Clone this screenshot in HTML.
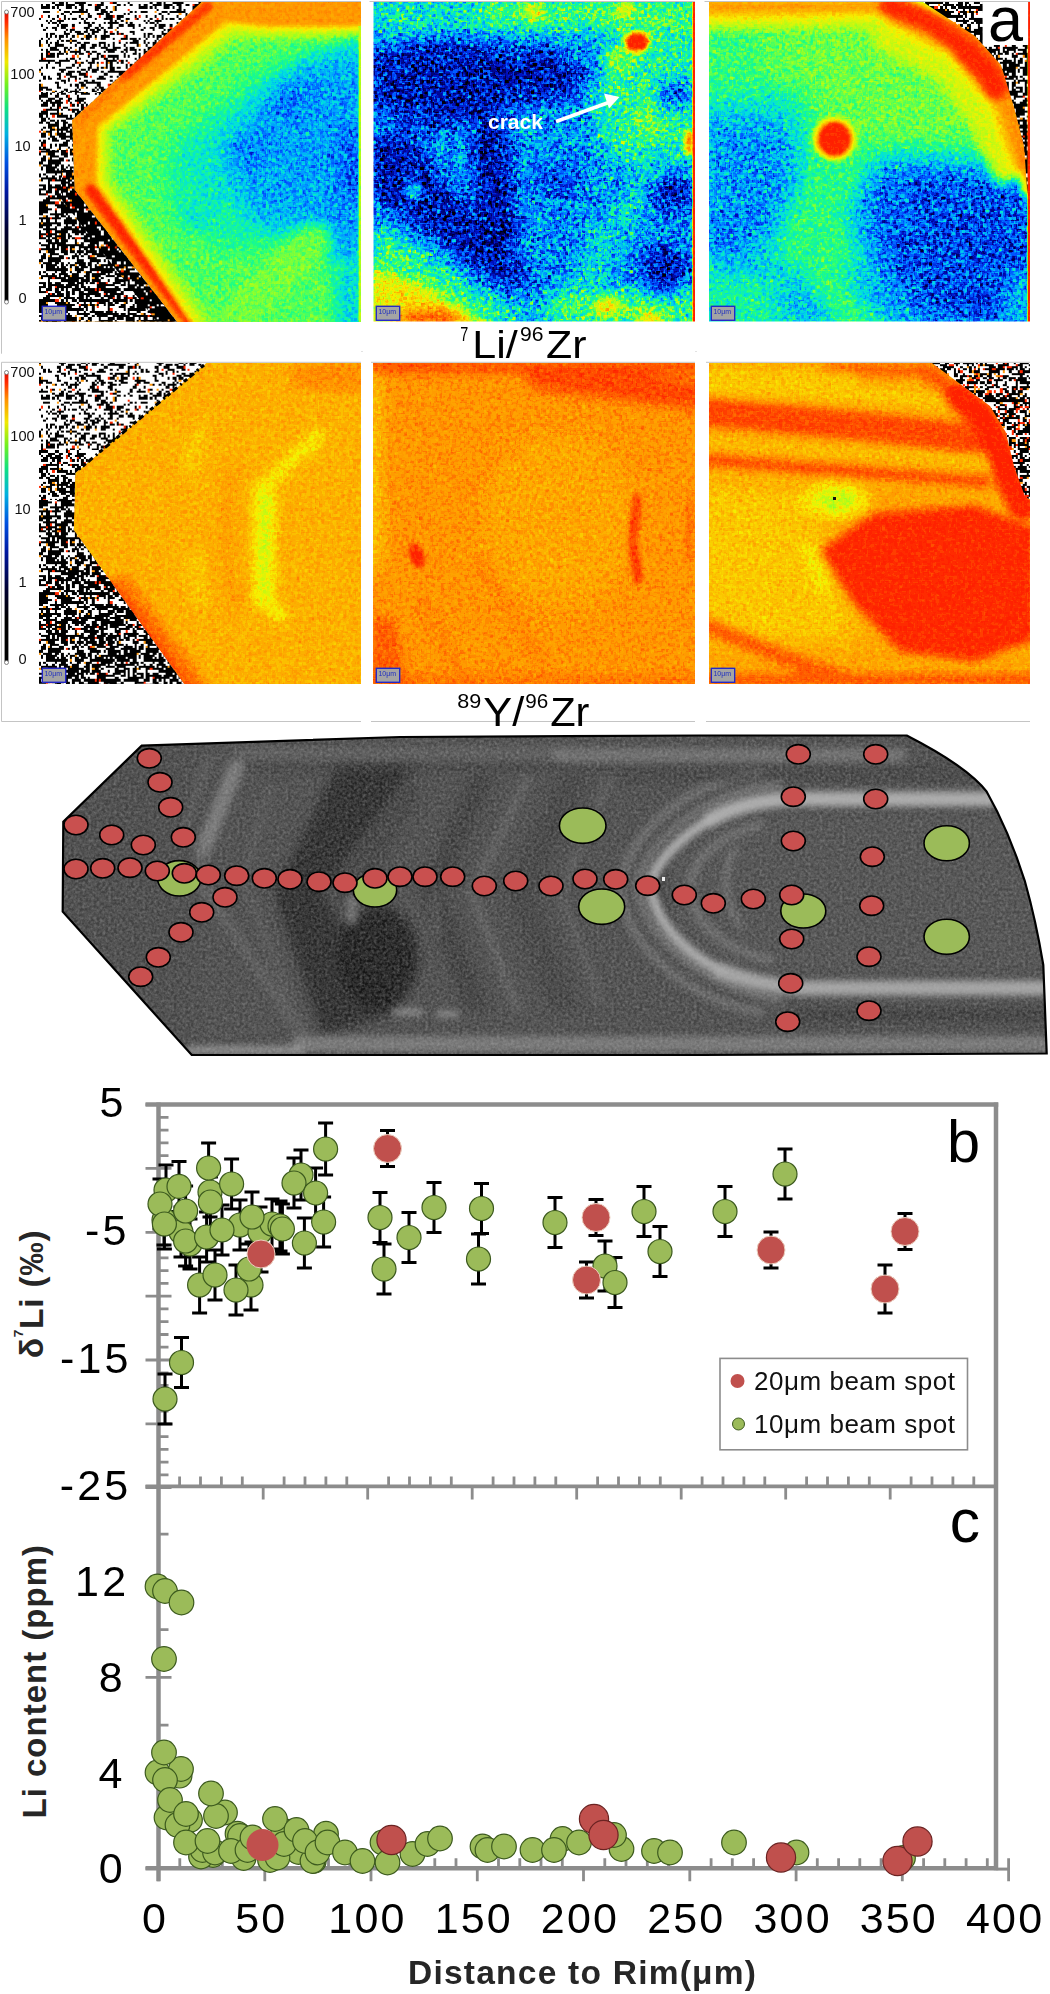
<!DOCTYPE html>
<html><head><meta charset="utf-8"><title>Li zoning figure</title>
<style>html,body{margin:0;padding:0;background:#fff}svg{display:block}</style>
</head><body>
<svg width="1050" height="1994" viewBox="0 0 1050 1994">
<rect width="1050" height="1994" fill="#fff"/>
<defs>
<pattern id="nzA" width="97.68" height="97.68" patternUnits="userSpaceOnUse" x="39" y="2"><g transform="scale(2.22)" shape-rendering="crispEdges"><rect width="44" height="44" fill="#fff"/><path d="M6 0h1v1h-1zM9 0h1v1h-1zM10 0h1v1h-1zM12 0h1v1h-1zM16 0h2v1h-2zM18 0h1v1h-1zM19 0h2v1h-2zM28 0h1v1h-1zM33 0h2v1h-2zM40 0h1v1h-1zM1 1h1v1h-1zM3 1h2v1h-2zM7 1h1v1h-1zM8 1h2v1h-2zM10 1h1v1h-1zM12 1h1v1h-1zM13 1h1v1h-1zM14 1h1v1h-1zM15 1h1v1h-1zM18 1h1v1h-1zM19 1h1v1h-1zM22 1h1v1h-1zM23 1h1v1h-1zM26 1h2v1h-2zM28 1h1v1h-1zM35 1h2v1h-2zM38 1h1v1h-1zM41 1h1v1h-1zM1 2h2v1h-2zM3 2h1v1h-1zM4 2h1v1h-1zM6 2h1v1h-1zM8 2h1v1h-1zM12 2h1v1h-1zM13 2h2v1h-2zM16 2h1v1h-1zM19 2h1v1h-1zM25 2h3v1h-3zM30 2h1v1h-1zM34 2h1v1h-1zM9 3h1v1h-1zM18 3h1v1h-1zM19 3h1v1h-1zM21 3h1v1h-1zM25 3h2v1h-2zM28 3h2v1h-2zM34 3h1v1h-1zM2 4h2v1h-2zM4 4h1v1h-1zM11 4h2v1h-2zM13 4h1v1h-1zM15 4h1v1h-1zM16 4h2v1h-2zM18 4h1v1h-1zM19 4h3v1h-3zM28 4h1v1h-1zM29 4h2v1h-2zM32 4h1v1h-1zM41 4h1v1h-1zM43 4h1v1h-1zM10 5h1v1h-1zM14 5h1v1h-1zM22 5h1v1h-1zM26 5h1v1h-1zM27 5h1v1h-1zM28 5h1v1h-1zM30 5h2v1h-2zM38 5h1v1h-1zM40 5h1v1h-1zM4 6h1v1h-1zM8 6h1v1h-1zM11 6h1v1h-1zM18 6h1v1h-1zM22 6h1v1h-1zM23 6h1v1h-1zM30 6h1v1h-1zM31 6h1v1h-1zM32 6h1v1h-1zM35 6h1v1h-1zM36 6h1v1h-1zM37 6h1v1h-1zM43 6h1v1h-1zM0 7h1v1h-1zM6 7h1v1h-1zM11 7h1v1h-1zM13 7h1v1h-1zM15 7h2v1h-2zM19 7h1v1h-1zM21 7h1v1h-1zM25 7h1v1h-1zM29 7h4v1h-4zM35 7h1v1h-1zM36 7h1v1h-1zM39 7h2v1h-2zM3 8h1v1h-1zM5 8h1v1h-1zM8 8h2v1h-2zM10 8h1v1h-1zM20 8h1v1h-1zM32 8h1v1h-1zM34 8h1v1h-1zM37 8h1v1h-1zM4 9h1v1h-1zM6 9h1v1h-1zM7 9h1v1h-1zM9 9h1v1h-1zM18 9h1v1h-1zM20 9h1v1h-1zM21 9h1v1h-1zM22 9h1v1h-1zM24 9h1v1h-1zM29 9h1v1h-1zM31 9h1v1h-1zM32 9h2v1h-2zM34 9h2v1h-2zM39 9h1v1h-1zM41 9h1v1h-1zM1 10h1v1h-1zM8 10h1v1h-1zM10 10h2v1h-2zM12 10h1v1h-1zM15 10h1v1h-1zM22 10h2v1h-2zM27 10h1v1h-1zM32 10h1v1h-1zM36 10h2v1h-2zM40 10h1v1h-1zM41 10h2v1h-2zM3 11h1v1h-1zM6 11h2v1h-2zM10 11h1v1h-1zM11 11h1v1h-1zM20 11h1v1h-1zM21 11h2v1h-2zM25 11h1v1h-1zM26 11h1v1h-1zM28 11h1v1h-1zM31 11h2v1h-2zM35 11h1v1h-1zM42 11h1v1h-1zM2 12h1v1h-1zM7 12h1v1h-1zM12 12h1v1h-1zM14 12h2v1h-2zM21 12h1v1h-1zM23 12h2v1h-2zM26 12h1v1h-1zM27 12h1v1h-1zM29 12h1v1h-1zM11 13h1v1h-1zM14 13h1v1h-1zM16 13h1v1h-1zM17 13h1v1h-1zM18 13h1v1h-1zM20 13h2v1h-2zM24 13h2v1h-2zM26 13h1v1h-1zM29 13h1v1h-1zM30 13h1v1h-1zM35 13h1v1h-1zM41 13h2v1h-2zM3 14h1v1h-1zM5 14h2v1h-2zM11 14h2v1h-2zM13 14h1v1h-1zM17 14h1v1h-1zM18 14h1v1h-1zM19 14h1v1h-1zM22 14h1v1h-1zM24 14h1v1h-1zM29 14h1v1h-1zM32 14h1v1h-1zM33 14h1v1h-1zM35 14h1v1h-1zM37 14h1v1h-1zM42 14h1v1h-1zM3 15h1v1h-1zM5 15h1v1h-1zM7 15h1v1h-1zM9 15h1v1h-1zM10 15h1v1h-1zM12 15h1v1h-1zM15 15h1v1h-1zM21 15h3v1h-3zM25 15h1v1h-1zM28 15h1v1h-1zM29 15h2v1h-2zM31 15h1v1h-1zM39 15h1v1h-1zM1 16h1v1h-1zM4 16h1v1h-1zM9 16h1v1h-1zM14 16h1v1h-1zM19 16h1v1h-1zM21 16h2v1h-2zM28 16h1v1h-1zM29 16h1v1h-1zM33 16h1v1h-1zM37 16h1v1h-1zM38 16h1v1h-1zM39 16h1v1h-1zM41 16h1v1h-1zM42 16h2v1h-2zM0 17h1v1h-1zM3 17h1v1h-1zM8 17h1v1h-1zM10 17h1v1h-1zM12 17h1v1h-1zM13 17h1v1h-1zM15 17h1v1h-1zM16 17h1v1h-1zM42 17h1v1h-1zM43 17h1v1h-1zM0 18h1v1h-1zM3 18h1v1h-1zM5 18h1v1h-1zM7 18h2v1h-2zM14 18h1v1h-1zM17 18h1v1h-1zM18 18h1v1h-1zM20 18h1v1h-1zM21 18h1v1h-1zM22 18h1v1h-1zM27 18h2v1h-2zM29 18h1v1h-1zM33 18h1v1h-1zM36 18h1v1h-1zM39 18h1v1h-1zM41 18h1v1h-1zM42 18h1v1h-1zM43 18h1v1h-1zM0 19h1v1h-1zM4 19h1v1h-1zM7 19h1v1h-1zM8 19h1v1h-1zM9 19h1v1h-1zM10 19h1v1h-1zM16 19h1v1h-1zM19 19h1v1h-1zM20 19h1v1h-1zM24 19h1v1h-1zM25 19h1v1h-1zM27 19h1v1h-1zM29 19h1v1h-1zM31 19h1v1h-1zM33 19h1v1h-1zM38 19h1v1h-1zM5 20h1v1h-1zM6 20h1v1h-1zM7 20h1v1h-1zM11 20h1v1h-1zM12 20h1v1h-1zM14 20h1v1h-1zM18 20h3v1h-3zM23 20h1v1h-1zM24 20h1v1h-1zM28 20h2v1h-2zM30 20h1v1h-1zM33 20h1v1h-1zM34 20h1v1h-1zM35 20h1v1h-1zM36 20h1v1h-1zM39 20h1v1h-1zM41 20h1v1h-1zM42 20h1v1h-1zM1 21h1v1h-1zM3 21h1v1h-1zM5 21h1v1h-1zM6 21h1v1h-1zM7 21h2v1h-2zM11 21h1v1h-1zM13 21h1v1h-1zM18 21h1v1h-1zM20 21h1v1h-1zM30 21h1v1h-1zM31 21h1v1h-1zM32 21h1v1h-1zM33 21h1v1h-1zM34 21h1v1h-1zM38 21h1v1h-1zM39 21h1v1h-1zM41 21h2v1h-2zM43 21h1v1h-1zM3 22h1v1h-1zM4 22h1v1h-1zM9 22h1v1h-1zM11 22h1v1h-1zM14 22h1v1h-1zM15 22h3v1h-3zM18 22h1v1h-1zM21 22h1v1h-1zM22 22h1v1h-1zM24 22h1v1h-1zM25 22h1v1h-1zM29 22h1v1h-1zM31 22h3v1h-3zM37 22h1v1h-1zM39 22h1v1h-1zM43 22h1v1h-1zM1 23h1v1h-1zM3 23h1v1h-1zM5 23h2v1h-2zM8 23h1v1h-1zM9 23h2v1h-2zM12 23h1v1h-1zM16 23h1v1h-1zM18 23h1v1h-1zM19 23h1v1h-1zM23 23h1v1h-1zM26 23h1v1h-1zM27 23h1v1h-1zM38 23h1v1h-1zM42 23h2v1h-2zM1 24h1v1h-1zM3 24h1v1h-1zM4 24h1v1h-1zM5 24h2v1h-2zM8 24h1v1h-1zM22 24h1v1h-1zM26 24h1v1h-1zM28 24h1v1h-1zM31 24h4v1h-4zM35 24h1v1h-1zM38 24h1v1h-1zM40 24h1v1h-1zM1 25h1v1h-1zM12 25h1v1h-1zM14 25h1v1h-1zM15 25h1v1h-1zM18 25h1v1h-1zM24 25h1v1h-1zM25 25h2v1h-2zM29 25h1v1h-1zM30 25h1v1h-1zM33 25h1v1h-1zM35 25h1v1h-1zM43 25h1v1h-1zM0 26h2v1h-2zM2 26h1v1h-1zM3 26h1v1h-1zM4 26h1v1h-1zM5 26h1v1h-1zM6 26h1v1h-1zM9 26h3v1h-3zM12 26h2v1h-2zM16 26h1v1h-1zM21 26h1v1h-1zM24 26h1v1h-1zM30 26h5v1h-5zM37 26h1v1h-1zM39 26h1v1h-1zM4 27h1v1h-1zM7 27h1v1h-1zM8 27h1v1h-1zM9 27h1v1h-1zM16 27h1v1h-1zM19 27h1v1h-1zM22 27h3v1h-3zM26 27h1v1h-1zM30 27h1v1h-1zM32 27h1v1h-1zM35 27h1v1h-1zM37 27h1v1h-1zM43 27h1v1h-1zM3 28h1v1h-1zM9 28h1v1h-1zM15 28h1v1h-1zM18 28h1v1h-1zM23 28h1v1h-1zM30 28h1v1h-1zM32 28h1v1h-1zM39 28h1v1h-1zM41 28h1v1h-1zM1 29h1v1h-1zM3 29h1v1h-1zM6 29h1v1h-1zM12 29h1v1h-1zM13 29h2v1h-2zM17 29h1v1h-1zM22 29h1v1h-1zM23 29h1v1h-1zM26 29h1v1h-1zM28 29h1v1h-1zM30 29h1v1h-1zM32 29h2v1h-2zM35 29h2v1h-2zM39 29h1v1h-1zM0 30h1v1h-1zM9 30h1v1h-1zM10 30h1v1h-1zM11 30h1v1h-1zM19 30h1v1h-1zM20 30h1v1h-1zM22 30h1v1h-1zM24 30h1v1h-1zM25 30h1v1h-1zM26 30h1v1h-1zM32 30h1v1h-1zM33 30h1v1h-1zM40 30h1v1h-1zM10 31h1v1h-1zM13 31h1v1h-1zM14 31h1v1h-1zM15 31h1v1h-1zM17 31h2v1h-2zM21 31h1v1h-1zM24 31h1v1h-1zM25 31h1v1h-1zM28 31h1v1h-1zM31 31h1v1h-1zM32 31h1v1h-1zM33 31h1v1h-1zM34 31h2v1h-2zM36 31h1v1h-1zM37 31h1v1h-1zM38 31h1v1h-1zM43 31h1v1h-1zM1 32h1v1h-1zM8 32h2v1h-2zM12 32h1v1h-1zM13 32h2v1h-2zM18 32h1v1h-1zM19 32h1v1h-1zM20 32h1v1h-1zM29 32h1v1h-1zM30 32h1v1h-1zM36 32h1v1h-1zM37 32h1v1h-1zM40 32h2v1h-2zM43 32h1v1h-1zM2 33h1v1h-1zM4 33h1v1h-1zM9 33h1v1h-1zM14 33h2v1h-2zM16 33h1v1h-1zM20 33h1v1h-1zM21 33h1v1h-1zM27 33h1v1h-1zM28 33h1v1h-1zM32 33h1v1h-1zM35 33h1v1h-1zM40 33h1v1h-1zM2 34h1v1h-1zM4 34h2v1h-2zM8 34h2v1h-2zM13 34h1v1h-1zM16 34h1v1h-1zM18 34h1v1h-1zM26 34h1v1h-1zM27 34h1v1h-1zM28 34h1v1h-1zM29 34h1v1h-1zM40 34h1v1h-1zM43 34h1v1h-1zM0 35h1v1h-1zM10 35h1v1h-1zM11 35h1v1h-1zM13 35h1v1h-1zM20 35h1v1h-1zM21 35h1v1h-1zM24 35h1v1h-1zM32 35h1v1h-1zM34 35h1v1h-1zM35 35h1v1h-1zM36 35h1v1h-1zM37 35h2v1h-2zM39 35h1v1h-1zM40 35h1v1h-1zM42 35h1v1h-1zM7 36h2v1h-2zM11 36h1v1h-1zM18 36h1v1h-1zM19 36h1v1h-1zM21 36h1v1h-1zM22 36h1v1h-1zM23 36h1v1h-1zM24 36h1v1h-1zM25 36h1v1h-1zM26 36h2v1h-2zM33 36h1v1h-1zM34 36h1v1h-1zM37 36h1v1h-1zM40 36h1v1h-1zM0 37h1v1h-1zM8 37h1v1h-1zM14 37h1v1h-1zM16 37h2v1h-2zM19 37h2v1h-2zM26 37h2v1h-2zM32 37h1v1h-1zM33 37h1v1h-1zM37 37h1v1h-1zM38 37h2v1h-2zM0 38h1v1h-1zM1 38h1v1h-1zM2 38h1v1h-1zM3 38h1v1h-1zM8 38h1v1h-1zM9 38h1v1h-1zM17 38h1v1h-1zM21 38h1v1h-1zM25 38h1v1h-1zM27 38h1v1h-1zM28 38h1v1h-1zM34 38h1v1h-1zM36 38h2v1h-2zM43 38h1v1h-1zM0 39h1v1h-1zM1 39h1v1h-1zM3 39h1v1h-1zM4 39h2v1h-2zM11 39h1v1h-1zM12 39h1v1h-1zM16 39h1v1h-1zM18 39h1v1h-1zM24 39h1v1h-1zM26 39h1v1h-1zM28 39h2v1h-2zM31 39h2v1h-2zM37 39h2v1h-2zM39 39h1v1h-1zM7 40h1v1h-1zM10 40h1v1h-1zM12 40h1v1h-1zM14 40h1v1h-1zM15 40h1v1h-1zM16 40h2v1h-2zM24 40h1v1h-1zM25 40h1v1h-1zM28 40h1v1h-1zM32 40h1v1h-1zM33 40h1v1h-1zM34 40h1v1h-1zM36 40h1v1h-1zM43 40h1v1h-1zM3 41h1v1h-1zM13 41h1v1h-1zM14 41h1v1h-1zM16 41h1v1h-1zM23 41h1v1h-1zM24 41h1v1h-1zM31 41h1v1h-1zM32 41h1v1h-1zM42 41h2v1h-2zM1 42h1v1h-1zM6 42h1v1h-1zM11 42h1v1h-1zM18 42h1v1h-1zM22 42h1v1h-1zM24 42h1v1h-1zM25 42h2v1h-2zM32 42h1v1h-1zM34 42h1v1h-1zM41 42h1v1h-1zM0 43h1v1h-1zM1 43h2v1h-2zM3 43h1v1h-1zM10 43h1v1h-1zM13 43h2v1h-2zM17 43h1v1h-1zM24 43h1v1h-1zM25 43h2v1h-2zM27 43h2v1h-2zM30 43h1v1h-1zM35 43h1v1h-1zM36 43h1v1h-1zM41 43h1v1h-1z" fill="#000"/><path d="M32 0h1v1h-1zM25 1h1v1h-1zM40 3h1v1h-1zM1 6h1v1h-1zM27 6h1v1h-1zM33 6h1v1h-1zM9 7h1v1h-1zM43 7h1v1h-1zM15 11h1v1h-1zM32 13h1v1h-1zM36 14h1v1h-1zM38 15h1v1h-1zM36 17h1v1h-1zM4 23h1v1h-1zM22 23h1v1h-1zM15 24h1v1h-1zM29 24h1v1h-1zM2 25h1v1h-1zM36 26h1v1h-1zM17 27h1v1h-1zM28 27h1v1h-1zM40 27h1v1h-1zM43 29h1v1h-1zM21 32h1v1h-1zM42 32h1v1h-1zM11 33h1v1h-1zM23 33h1v1h-1zM16 35h1v1h-1zM31 37h1v1h-1zM42 37h1v1h-1zM0 40h1v1h-1zM26 41h1v1h-1zM5 42h1v1h-1zM15 42h1v1h-1z" fill="#ff2800"/><path d="M33 2h1v1h-1zM33 3h1v1h-1zM8 4h1v1h-1zM19 5h1v1h-1zM39 8h1v1h-1zM34 12h1v1h-1zM17 15h1v1h-1zM20 15h1v1h-1zM25 16h1v1h-1zM14 17h1v1h-1zM1 19h1v1h-1zM16 21h1v1h-1zM12 22h1v1h-1zM17 24h1v1h-1zM18 27h1v1h-1zM31 27h1v1h-1zM26 28h1v1h-1zM29 29h1v1h-1zM0 31h1v1h-1zM39 34h1v1h-1zM1 37h1v1h-1zM35 37h1v1h-1zM19 38h1v1h-1zM6 40h1v1h-1zM9 42h1v1h-1zM5 43h1v1h-1zM34 43h1v1h-1z" fill="#ff9a10"/></g></pattern>
<pattern id="nzE" width="88.80" height="88.80" patternUnits="userSpaceOnUse" x="39" y="2"><g transform="scale(2.22)" shape-rendering="crispEdges"><rect width="40" height="40" fill="#fff"/><path d="M1 0h1v1h-1zM3 0h1v1h-1zM6 0h1v1h-1zM9 0h1v1h-1zM10 0h1v1h-1zM13 0h1v1h-1zM14 0h1v1h-1zM16 0h4v1h-4zM21 0h1v1h-1zM26 0h1v1h-1zM27 0h1v1h-1zM29 0h1v1h-1zM32 0h1v1h-1zM33 0h1v1h-1zM38 0h1v1h-1zM1 1h1v1h-1zM2 1h1v1h-1zM3 1h1v1h-1zM5 1h1v1h-1zM8 1h1v1h-1zM10 1h1v1h-1zM11 1h1v1h-1zM16 1h1v1h-1zM19 1h3v1h-3zM22 1h1v1h-1zM25 1h1v1h-1zM27 1h3v1h-3zM30 1h1v1h-1zM31 1h1v1h-1zM35 1h1v1h-1zM36 1h1v1h-1zM37 1h1v1h-1zM0 2h4v1h-4zM7 2h1v1h-1zM8 2h1v1h-1zM12 2h1v1h-1zM17 2h1v1h-1zM27 2h1v1h-1zM28 2h1v1h-1zM31 2h2v1h-2zM33 2h1v1h-1zM35 2h1v1h-1zM39 2h1v1h-1zM0 3h1v1h-1zM4 3h2v1h-2zM6 3h1v1h-1zM9 3h1v1h-1zM10 3h1v1h-1zM13 3h1v1h-1zM14 3h1v1h-1zM17 3h3v1h-3zM20 3h1v1h-1zM28 3h1v1h-1zM30 3h1v1h-1zM31 3h1v1h-1zM34 3h1v1h-1zM35 3h1v1h-1zM37 3h1v1h-1zM39 3h1v1h-1zM1 4h1v1h-1zM3 4h1v1h-1zM4 4h1v1h-1zM5 4h1v1h-1zM7 4h1v1h-1zM8 4h2v1h-2zM13 4h1v1h-1zM16 4h3v1h-3zM19 4h1v1h-1zM30 4h1v1h-1zM32 4h1v1h-1zM36 4h2v1h-2zM2 5h2v1h-2zM5 5h1v1h-1zM6 5h1v1h-1zM7 5h1v1h-1zM8 5h1v1h-1zM9 5h1v1h-1zM10 5h1v1h-1zM14 5h1v1h-1zM18 5h1v1h-1zM20 5h1v1h-1zM26 5h1v1h-1zM29 5h1v1h-1zM31 5h1v1h-1zM32 5h1v1h-1zM33 5h2v1h-2zM37 5h1v1h-1zM39 5h1v1h-1zM1 6h2v1h-2zM3 6h1v1h-1zM6 6h1v1h-1zM8 6h1v1h-1zM9 6h1v1h-1zM15 6h1v1h-1zM17 6h1v1h-1zM19 6h1v1h-1zM21 6h1v1h-1zM26 6h2v1h-2zM28 6h2v1h-2zM31 6h1v1h-1zM32 6h1v1h-1zM35 6h1v1h-1zM37 6h1v1h-1zM39 6h1v1h-1zM5 7h1v1h-1zM8 7h1v1h-1zM11 7h2v1h-2zM19 7h1v1h-1zM22 7h1v1h-1zM26 7h1v1h-1zM30 7h1v1h-1zM31 7h1v1h-1zM32 7h1v1h-1zM33 7h1v1h-1zM34 7h1v1h-1zM3 8h3v1h-3zM6 8h1v1h-1zM7 8h2v1h-2zM10 8h1v1h-1zM13 8h1v1h-1zM15 8h3v1h-3zM19 8h1v1h-1zM21 8h1v1h-1zM23 8h1v1h-1zM24 8h1v1h-1zM28 8h1v1h-1zM33 8h1v1h-1zM34 8h1v1h-1zM35 8h2v1h-2zM38 8h2v1h-2zM1 9h3v1h-3zM8 9h1v1h-1zM15 9h1v1h-1zM17 9h2v1h-2zM20 9h1v1h-1zM22 9h1v1h-1zM23 9h3v1h-3zM26 9h1v1h-1zM27 9h2v1h-2zM33 9h1v1h-1zM35 9h1v1h-1zM0 10h2v1h-2zM2 10h1v1h-1zM3 10h1v1h-1zM5 10h2v1h-2zM7 10h1v1h-1zM8 10h1v1h-1zM10 10h1v1h-1zM16 10h1v1h-1zM17 10h1v1h-1zM18 10h1v1h-1zM19 10h1v1h-1zM22 10h1v1h-1zM23 10h1v1h-1zM31 10h1v1h-1zM33 10h2v1h-2zM35 10h1v1h-1zM36 10h1v1h-1zM37 10h1v1h-1zM38 10h1v1h-1zM39 10h1v1h-1zM0 11h1v1h-1zM1 11h1v1h-1zM3 11h1v1h-1zM8 11h4v1h-4zM12 11h1v1h-1zM14 11h1v1h-1zM16 11h1v1h-1zM17 11h1v1h-1zM18 11h1v1h-1zM21 11h3v1h-3zM24 11h1v1h-1zM25 11h1v1h-1zM26 11h1v1h-1zM27 11h1v1h-1zM30 11h1v1h-1zM31 11h1v1h-1zM34 11h1v1h-1zM36 11h1v1h-1zM37 11h2v1h-2zM39 11h1v1h-1zM1 12h1v1h-1zM2 12h1v1h-1zM4 12h1v1h-1zM12 12h1v1h-1zM13 12h3v1h-3zM16 12h1v1h-1zM17 12h1v1h-1zM18 12h1v1h-1zM25 12h1v1h-1zM26 12h1v1h-1zM27 12h1v1h-1zM28 12h1v1h-1zM29 12h1v1h-1zM30 12h1v1h-1zM31 12h1v1h-1zM32 12h1v1h-1zM37 12h3v1h-3zM1 13h1v1h-1zM2 13h1v1h-1zM5 13h2v1h-2zM8 13h1v1h-1zM10 13h1v1h-1zM11 13h1v1h-1zM19 13h1v1h-1zM21 13h1v1h-1zM22 13h3v1h-3zM26 13h2v1h-2zM28 13h1v1h-1zM29 13h2v1h-2zM33 13h1v1h-1zM36 13h1v1h-1zM0 14h2v1h-2zM3 14h1v1h-1zM4 14h1v1h-1zM7 14h1v1h-1zM8 14h1v1h-1zM11 14h2v1h-2zM19 14h1v1h-1zM21 14h5v1h-5zM27 14h1v1h-1zM31 14h1v1h-1zM32 14h1v1h-1zM35 14h1v1h-1zM37 14h1v1h-1zM38 14h2v1h-2zM4 15h1v1h-1zM5 15h2v1h-2zM7 15h1v1h-1zM8 15h1v1h-1zM11 15h1v1h-1zM13 15h1v1h-1zM14 15h1v1h-1zM18 15h1v1h-1zM21 15h1v1h-1zM22 15h1v1h-1zM23 15h1v1h-1zM24 15h1v1h-1zM26 15h1v1h-1zM27 15h1v1h-1zM30 15h1v1h-1zM38 15h1v1h-1zM2 16h1v1h-1zM4 16h1v1h-1zM5 16h1v1h-1zM8 16h1v1h-1zM10 16h1v1h-1zM11 16h1v1h-1zM12 16h1v1h-1zM13 16h1v1h-1zM15 16h1v1h-1zM16 16h1v1h-1zM22 16h1v1h-1zM23 16h1v1h-1zM26 16h1v1h-1zM28 16h1v1h-1zM33 16h1v1h-1zM38 16h1v1h-1zM39 16h1v1h-1zM1 17h1v1h-1zM5 17h2v1h-2zM8 17h1v1h-1zM9 17h1v1h-1zM10 17h1v1h-1zM11 17h1v1h-1zM12 17h1v1h-1zM14 17h1v1h-1zM15 17h1v1h-1zM16 17h1v1h-1zM17 17h1v1h-1zM18 17h1v1h-1zM20 17h1v1h-1zM21 17h1v1h-1zM23 17h1v1h-1zM29 17h3v1h-3zM34 17h1v1h-1zM36 17h1v1h-1zM38 17h1v1h-1zM3 18h1v1h-1zM4 18h2v1h-2zM8 18h1v1h-1zM10 18h1v1h-1zM12 18h1v1h-1zM13 18h1v1h-1zM14 18h1v1h-1zM15 18h1v1h-1zM16 18h2v1h-2zM18 18h2v1h-2zM25 18h1v1h-1zM26 18h1v1h-1zM30 18h1v1h-1zM31 18h1v1h-1zM32 18h1v1h-1zM33 18h2v1h-2zM35 18h1v1h-1zM37 18h3v1h-3zM1 19h2v1h-2zM5 19h1v1h-1zM8 19h2v1h-2zM10 19h1v1h-1zM11 19h1v1h-1zM14 19h1v1h-1zM15 19h1v1h-1zM20 19h2v1h-2zM22 19h3v1h-3zM27 19h1v1h-1zM29 19h2v1h-2zM33 19h1v1h-1zM34 19h1v1h-1zM38 19h1v1h-1zM1 20h2v1h-2zM5 20h1v1h-1zM6 20h1v1h-1zM9 20h1v1h-1zM10 20h2v1h-2zM12 20h1v1h-1zM13 20h1v1h-1zM14 20h2v1h-2zM19 20h1v1h-1zM25 20h1v1h-1zM26 20h2v1h-2zM31 20h1v1h-1zM33 20h2v1h-2zM35 20h1v1h-1zM36 20h1v1h-1zM37 20h1v1h-1zM38 20h1v1h-1zM4 21h1v1h-1zM6 21h1v1h-1zM7 21h1v1h-1zM10 21h1v1h-1zM11 21h1v1h-1zM14 21h3v1h-3zM17 21h2v1h-2zM19 21h1v1h-1zM22 21h2v1h-2zM31 21h1v1h-1zM34 21h1v1h-1zM39 21h1v1h-1zM0 22h1v1h-1zM2 22h1v1h-1zM6 22h1v1h-1zM7 22h1v1h-1zM8 22h1v1h-1zM12 22h2v1h-2zM15 22h1v1h-1zM16 22h1v1h-1zM18 22h3v1h-3zM21 22h1v1h-1zM22 22h1v1h-1zM26 22h1v1h-1zM33 22h1v1h-1zM35 22h1v1h-1zM38 22h2v1h-2zM1 23h2v1h-2zM11 23h2v1h-2zM16 23h1v1h-1zM17 23h1v1h-1zM19 23h1v1h-1zM20 23h2v1h-2zM24 23h1v1h-1zM25 23h1v1h-1zM26 23h1v1h-1zM30 23h1v1h-1zM32 23h1v1h-1zM36 23h4v1h-4zM1 24h1v1h-1zM5 24h1v1h-1zM7 24h1v1h-1zM9 24h3v1h-3zM12 24h1v1h-1zM15 24h1v1h-1zM19 24h1v1h-1zM23 24h1v1h-1zM26 24h2v1h-2zM28 24h1v1h-1zM30 24h1v1h-1zM31 24h1v1h-1zM34 24h2v1h-2zM36 24h1v1h-1zM37 24h1v1h-1zM38 24h1v1h-1zM39 24h1v1h-1zM0 25h1v1h-1zM2 25h1v1h-1zM5 25h1v1h-1zM9 25h1v1h-1zM13 25h1v1h-1zM17 25h1v1h-1zM19 25h1v1h-1zM24 25h1v1h-1zM25 25h1v1h-1zM29 25h1v1h-1zM31 25h1v1h-1zM34 25h1v1h-1zM35 25h1v1h-1zM37 25h1v1h-1zM0 26h1v1h-1zM1 26h3v1h-3zM4 26h1v1h-1zM9 26h1v1h-1zM14 26h1v1h-1zM15 26h1v1h-1zM18 26h1v1h-1zM19 26h1v1h-1zM21 26h1v1h-1zM24 26h1v1h-1zM26 26h1v1h-1zM29 26h1v1h-1zM30 26h1v1h-1zM31 26h2v1h-2zM34 26h1v1h-1zM35 26h1v1h-1zM36 26h1v1h-1zM37 26h1v1h-1zM39 26h1v1h-1zM2 27h1v1h-1zM3 27h1v1h-1zM8 27h1v1h-1zM9 27h1v1h-1zM10 27h1v1h-1zM16 27h1v1h-1zM19 27h3v1h-3zM24 27h1v1h-1zM29 27h1v1h-1zM30 27h4v1h-4zM35 27h1v1h-1zM36 27h1v1h-1zM37 27h1v1h-1zM38 27h1v1h-1zM1 28h1v1h-1zM7 28h1v1h-1zM9 28h1v1h-1zM10 28h1v1h-1zM11 28h1v1h-1zM15 28h1v1h-1zM16 28h2v1h-2zM18 28h1v1h-1zM20 28h1v1h-1zM24 28h1v1h-1zM27 28h1v1h-1zM31 28h1v1h-1zM34 28h2v1h-2zM37 28h1v1h-1zM38 28h1v1h-1zM39 28h1v1h-1zM2 29h1v1h-1zM6 29h1v1h-1zM7 29h1v1h-1zM8 29h2v1h-2zM10 29h1v1h-1zM12 29h1v1h-1zM14 29h4v1h-4zM20 29h2v1h-2zM22 29h3v1h-3zM25 29h3v1h-3zM29 29h1v1h-1zM31 29h2v1h-2zM34 29h1v1h-1zM2 30h2v1h-2zM6 30h1v1h-1zM9 30h1v1h-1zM10 30h1v1h-1zM12 30h1v1h-1zM14 30h1v1h-1zM16 30h1v1h-1zM19 30h1v1h-1zM20 30h1v1h-1zM23 30h1v1h-1zM24 30h1v1h-1zM27 30h2v1h-2zM32 30h1v1h-1zM33 30h1v1h-1zM35 30h1v1h-1zM0 31h1v1h-1zM2 31h1v1h-1zM4 31h1v1h-1zM8 31h1v1h-1zM9 31h1v1h-1zM10 31h1v1h-1zM11 31h1v1h-1zM18 31h1v1h-1zM20 31h2v1h-2zM22 31h1v1h-1zM23 31h2v1h-2zM27 31h1v1h-1zM28 31h1v1h-1zM30 31h1v1h-1zM33 31h1v1h-1zM35 31h1v1h-1zM36 31h1v1h-1zM37 31h1v1h-1zM2 32h2v1h-2zM4 32h1v1h-1zM5 32h1v1h-1zM8 32h2v1h-2zM11 32h2v1h-2zM13 32h1v1h-1zM19 32h2v1h-2zM24 32h1v1h-1zM27 32h1v1h-1zM28 32h1v1h-1zM30 32h3v1h-3zM33 32h1v1h-1zM37 32h3v1h-3zM1 33h2v1h-2zM4 33h1v1h-1zM7 33h1v1h-1zM8 33h1v1h-1zM11 33h1v1h-1zM17 33h1v1h-1zM19 33h1v1h-1zM20 33h1v1h-1zM21 33h2v1h-2zM24 33h1v1h-1zM25 33h1v1h-1zM26 33h2v1h-2zM28 33h1v1h-1zM30 33h1v1h-1zM32 33h1v1h-1zM38 33h2v1h-2zM1 34h1v1h-1zM4 34h1v1h-1zM8 34h4v1h-4zM14 34h2v1h-2zM22 34h4v1h-4zM30 34h1v1h-1zM33 34h2v1h-2zM37 34h1v1h-1zM38 34h1v1h-1zM2 35h2v1h-2zM6 35h1v1h-1zM9 35h1v1h-1zM11 35h1v1h-1zM19 35h1v1h-1zM20 35h1v1h-1zM26 35h1v1h-1zM27 35h1v1h-1zM31 35h1v1h-1zM32 35h1v1h-1zM34 35h1v1h-1zM35 35h1v1h-1zM36 35h1v1h-1zM37 35h1v1h-1zM39 35h1v1h-1zM0 36h2v1h-2zM2 36h2v1h-2zM5 36h1v1h-1zM6 36h2v1h-2zM10 36h1v1h-1zM12 36h1v1h-1zM13 36h1v1h-1zM14 36h1v1h-1zM15 36h1v1h-1zM17 36h1v1h-1zM20 36h2v1h-2zM22 36h1v1h-1zM24 36h1v1h-1zM27 36h1v1h-1zM31 36h1v1h-1zM36 36h1v1h-1zM1 37h3v1h-3zM4 37h1v1h-1zM6 37h1v1h-1zM7 37h1v1h-1zM9 37h1v1h-1zM12 37h1v1h-1zM14 37h1v1h-1zM15 37h1v1h-1zM16 37h3v1h-3zM23 37h1v1h-1zM26 37h1v1h-1zM29 37h1v1h-1zM30 37h1v1h-1zM34 37h1v1h-1zM35 37h1v1h-1zM0 38h1v1h-1zM1 38h1v1h-1zM5 38h1v1h-1zM10 38h1v1h-1zM13 38h1v1h-1zM18 38h1v1h-1zM20 38h1v1h-1zM21 38h1v1h-1zM22 38h3v1h-3zM25 38h1v1h-1zM26 38h1v1h-1zM27 38h1v1h-1zM28 38h1v1h-1zM30 38h2v1h-2zM32 38h1v1h-1zM33 38h1v1h-1zM36 38h1v1h-1zM37 38h1v1h-1zM38 38h1v1h-1zM39 38h1v1h-1zM1 39h1v1h-1zM2 39h1v1h-1zM5 39h1v1h-1zM7 39h2v1h-2zM10 39h1v1h-1zM11 39h1v1h-1zM15 39h1v1h-1zM19 39h1v1h-1zM21 39h1v1h-1zM23 39h1v1h-1zM25 39h1v1h-1zM29 39h1v1h-1zM30 39h1v1h-1zM33 39h2v1h-2zM35 39h1v1h-1zM36 39h1v1h-1zM37 39h1v1h-1zM38 39h1v1h-1z" fill="#000"/><path d="M38 1h1v1h-1zM13 2h1v1h-1zM12 4h1v1h-1zM12 5h1v1h-1zM17 5h1v1h-1zM38 5h1v1h-1zM14 6h1v1h-1zM9 7h1v1h-1zM20 7h1v1h-1zM2 8h1v1h-1zM14 8h1v1h-1zM38 9h1v1h-1zM6 11h1v1h-1zM32 11h1v1h-1zM25 13h1v1h-1zM18 14h1v1h-1zM30 16h1v1h-1zM34 16h1v1h-1zM36 16h1v1h-1zM0 18h1v1h-1zM26 19h1v1h-1zM38 21h1v1h-1zM2 24h1v1h-1zM15 27h1v1h-1zM5 28h1v1h-1zM36 29h1v1h-1zM1 30h1v1h-1zM13 30h1v1h-1zM17 31h1v1h-1zM27 34h1v1h-1zM10 35h1v1h-1zM23 35h1v1h-1zM6 38h1v1h-1z" fill="#ff2800"/><path d="M20 0h1v1h-1zM31 4h1v1h-1zM34 4h1v1h-1zM9 10h1v1h-1zM16 14h1v1h-1zM28 15h1v1h-1zM6 16h1v1h-1zM7 17h1v1h-1zM2 18h1v1h-1zM4 19h1v1h-1zM7 19h1v1h-1zM31 19h1v1h-1zM36 19h1v1h-1zM32 21h1v1h-1zM31 22h1v1h-1zM34 22h1v1h-1zM8 26h1v1h-1zM12 26h1v1h-1zM21 28h1v1h-1zM13 29h1v1h-1zM30 30h1v1h-1zM9 33h1v1h-1zM35 33h1v1h-1zM0 37h1v1h-1zM11 37h1v1h-1zM20 37h1v1h-1zM29 38h1v1h-1zM39 39h1v1h-1z" fill="#ff9a10"/></g></pattern>
<pattern id="nzB" width="97.68" height="97.68" patternUnits="userSpaceOnUse" x="39" y="2"><g transform="scale(2.22)" shape-rendering="crispEdges"><rect width="44" height="44" fill="#fff"/><path d="M3 0h1v1h-1zM4 0h1v1h-1zM5 0h2v1h-2zM7 0h1v1h-1zM8 0h2v1h-2zM10 0h1v1h-1zM12 0h2v1h-2zM18 0h1v1h-1zM19 0h1v1h-1zM21 0h2v1h-2zM25 0h1v1h-1zM26 0h2v1h-2zM29 0h5v1h-5zM35 0h1v1h-1zM36 0h1v1h-1zM39 0h1v1h-1zM42 0h1v1h-1zM2 1h1v1h-1zM3 1h1v1h-1zM4 1h1v1h-1zM11 1h1v1h-1zM12 1h3v1h-3zM15 1h1v1h-1zM17 1h2v1h-2zM19 1h1v1h-1zM21 1h1v1h-1zM23 1h1v1h-1zM28 1h1v1h-1zM31 1h1v1h-1zM32 1h1v1h-1zM35 1h1v1h-1zM36 1h1v1h-1zM38 1h1v1h-1zM39 1h1v1h-1zM42 1h1v1h-1zM43 1h1v1h-1zM0 2h1v1h-1zM1 2h1v1h-1zM2 2h1v1h-1zM3 2h1v1h-1zM4 2h2v1h-2zM6 2h1v1h-1zM10 2h1v1h-1zM12 2h1v1h-1zM15 2h1v1h-1zM16 2h1v1h-1zM18 2h1v1h-1zM19 2h1v1h-1zM20 2h1v1h-1zM21 2h5v1h-5zM26 2h2v1h-2zM28 2h1v1h-1zM29 2h1v1h-1zM30 2h1v1h-1zM31 2h1v1h-1zM33 2h1v1h-1zM34 2h1v1h-1zM35 2h1v1h-1zM36 2h1v1h-1zM37 2h1v1h-1zM38 2h2v1h-2zM41 2h1v1h-1zM43 2h1v1h-1zM0 3h1v1h-1zM1 3h1v1h-1zM2 3h1v1h-1zM7 3h3v1h-3zM10 3h1v1h-1zM11 3h1v1h-1zM13 3h1v1h-1zM17 3h1v1h-1zM20 3h1v1h-1zM23 3h1v1h-1zM27 3h2v1h-2zM29 3h1v1h-1zM31 3h2v1h-2zM34 3h2v1h-2zM39 3h1v1h-1zM43 3h1v1h-1zM0 4h1v1h-1zM1 4h1v1h-1zM2 4h2v1h-2zM8 4h2v1h-2zM10 4h1v1h-1zM11 4h1v1h-1zM12 4h2v1h-2zM14 4h1v1h-1zM15 4h1v1h-1zM19 4h1v1h-1zM20 4h2v1h-2zM23 4h1v1h-1zM24 4h1v1h-1zM26 4h1v1h-1zM29 4h1v1h-1zM31 4h1v1h-1zM32 4h2v1h-2zM37 4h2v1h-2zM42 4h1v1h-1zM0 5h1v1h-1zM1 5h3v1h-3zM4 5h1v1h-1zM5 5h1v1h-1zM10 5h1v1h-1zM11 5h1v1h-1zM12 5h1v1h-1zM13 5h1v1h-1zM14 5h1v1h-1zM18 5h1v1h-1zM20 5h2v1h-2zM24 5h1v1h-1zM31 5h1v1h-1zM36 5h1v1h-1zM37 5h2v1h-2zM41 5h2v1h-2zM0 6h2v1h-2zM2 6h2v1h-2zM7 6h1v1h-1zM10 6h2v1h-2zM12 6h1v1h-1zM13 6h1v1h-1zM14 6h2v1h-2zM16 6h1v1h-1zM17 6h1v1h-1zM18 6h1v1h-1zM19 6h1v1h-1zM21 6h1v1h-1zM24 6h1v1h-1zM31 6h1v1h-1zM38 6h1v1h-1zM40 6h1v1h-1zM41 6h2v1h-2zM43 6h1v1h-1zM0 7h1v1h-1zM1 7h1v1h-1zM5 7h2v1h-2zM7 7h1v1h-1zM8 7h1v1h-1zM9 7h2v1h-2zM12 7h1v1h-1zM17 7h1v1h-1zM20 7h1v1h-1zM23 7h1v1h-1zM24 7h1v1h-1zM25 7h4v1h-4zM30 7h2v1h-2zM32 7h1v1h-1zM34 7h1v1h-1zM40 7h1v1h-1zM3 8h1v1h-1zM7 8h2v1h-2zM10 8h2v1h-2zM13 8h1v1h-1zM17 8h1v1h-1zM18 8h1v1h-1zM19 8h1v1h-1zM20 8h2v1h-2zM22 8h1v1h-1zM25 8h1v1h-1zM26 8h2v1h-2zM28 8h5v1h-5zM33 8h1v1h-1zM34 8h1v1h-1zM35 8h1v1h-1zM37 8h1v1h-1zM38 8h1v1h-1zM40 8h1v1h-1zM41 8h1v1h-1zM42 8h2v1h-2zM0 9h5v1h-5zM6 9h1v1h-1zM7 9h2v1h-2zM9 9h1v1h-1zM12 9h1v1h-1zM13 9h1v1h-1zM14 9h1v1h-1zM20 9h2v1h-2zM24 9h1v1h-1zM26 9h1v1h-1zM27 9h2v1h-2zM29 9h1v1h-1zM30 9h1v1h-1zM33 9h2v1h-2zM35 9h1v1h-1zM36 9h2v1h-2zM38 9h2v1h-2zM40 9h1v1h-1zM42 9h1v1h-1zM43 9h1v1h-1zM1 10h1v1h-1zM3 10h2v1h-2zM7 10h1v1h-1zM11 10h1v1h-1zM12 10h2v1h-2zM14 10h2v1h-2zM16 10h1v1h-1zM19 10h1v1h-1zM22 10h1v1h-1zM23 10h1v1h-1zM27 10h1v1h-1zM31 10h1v1h-1zM32 10h1v1h-1zM33 10h1v1h-1zM35 10h3v1h-3zM39 10h2v1h-2zM41 10h1v1h-1zM42 10h1v1h-1zM0 11h1v1h-1zM2 11h1v1h-1zM3 11h1v1h-1zM4 11h1v1h-1zM5 11h1v1h-1zM6 11h1v1h-1zM7 11h1v1h-1zM8 11h1v1h-1zM9 11h1v1h-1zM11 11h1v1h-1zM12 11h3v1h-3zM15 11h1v1h-1zM16 11h1v1h-1zM18 11h1v1h-1zM21 11h1v1h-1zM23 11h1v1h-1zM27 11h1v1h-1zM28 11h3v1h-3zM31 11h1v1h-1zM32 11h1v1h-1zM34 11h1v1h-1zM39 11h4v1h-4zM0 12h1v1h-1zM1 12h4v1h-4zM5 12h1v1h-1zM8 12h1v1h-1zM9 12h1v1h-1zM12 12h1v1h-1zM15 12h1v1h-1zM18 12h1v1h-1zM20 12h1v1h-1zM21 12h1v1h-1zM22 12h1v1h-1zM23 12h1v1h-1zM25 12h1v1h-1zM26 12h1v1h-1zM27 12h1v1h-1zM28 12h2v1h-2zM30 12h1v1h-1zM31 12h1v1h-1zM34 12h1v1h-1zM35 12h1v1h-1zM36 12h5v1h-5zM41 12h1v1h-1zM42 12h2v1h-2zM0 13h1v1h-1zM1 13h1v1h-1zM3 13h2v1h-2zM7 13h1v1h-1zM11 13h2v1h-2zM13 13h1v1h-1zM14 13h1v1h-1zM16 13h1v1h-1zM18 13h1v1h-1zM19 13h1v1h-1zM20 13h2v1h-2zM22 13h1v1h-1zM23 13h2v1h-2zM25 13h2v1h-2zM27 13h2v1h-2zM30 13h1v1h-1zM32 13h1v1h-1zM33 13h2v1h-2zM35 13h2v1h-2zM38 13h1v1h-1zM39 13h1v1h-1zM40 13h1v1h-1zM41 13h1v1h-1zM42 13h1v1h-1zM43 13h1v1h-1zM2 14h1v1h-1zM3 14h4v1h-4zM7 14h1v1h-1zM10 14h1v1h-1zM11 14h4v1h-4zM15 14h1v1h-1zM16 14h1v1h-1zM17 14h1v1h-1zM19 14h2v1h-2zM21 14h1v1h-1zM25 14h1v1h-1zM26 14h1v1h-1zM27 14h1v1h-1zM28 14h1v1h-1zM29 14h2v1h-2zM31 14h1v1h-1zM34 14h1v1h-1zM35 14h1v1h-1zM36 14h2v1h-2zM41 14h1v1h-1zM42 14h2v1h-2zM0 15h1v1h-1zM3 15h1v1h-1zM4 15h1v1h-1zM7 15h2v1h-2zM9 15h2v1h-2zM11 15h1v1h-1zM12 15h1v1h-1zM15 15h3v1h-3zM18 15h1v1h-1zM19 15h1v1h-1zM20 15h1v1h-1zM24 15h1v1h-1zM25 15h1v1h-1zM28 15h2v1h-2zM30 15h1v1h-1zM31 15h1v1h-1zM32 15h1v1h-1zM33 15h1v1h-1zM34 15h1v1h-1zM35 15h1v1h-1zM36 15h2v1h-2zM39 15h1v1h-1zM0 16h1v1h-1zM1 16h2v1h-2zM4 16h4v1h-4zM10 16h2v1h-2zM13 16h1v1h-1zM16 16h1v1h-1zM17 16h1v1h-1zM19 16h1v1h-1zM21 16h2v1h-2zM24 16h1v1h-1zM25 16h1v1h-1zM26 16h1v1h-1zM28 16h1v1h-1zM29 16h2v1h-2zM32 16h2v1h-2zM34 16h1v1h-1zM35 16h1v1h-1zM36 16h1v1h-1zM37 16h2v1h-2zM40 16h2v1h-2zM0 17h1v1h-1zM3 17h1v1h-1zM4 17h2v1h-2zM7 17h3v1h-3zM10 17h1v1h-1zM11 17h1v1h-1zM13 17h1v1h-1zM14 17h1v1h-1zM20 17h3v1h-3zM23 17h1v1h-1zM24 17h2v1h-2zM27 17h1v1h-1zM28 17h1v1h-1zM30 17h1v1h-1zM32 17h2v1h-2zM34 17h2v1h-2zM39 17h1v1h-1zM40 17h2v1h-2zM43 17h1v1h-1zM0 18h1v1h-1zM1 18h1v1h-1zM2 18h1v1h-1zM4 18h1v1h-1zM6 18h2v1h-2zM10 18h2v1h-2zM13 18h1v1h-1zM15 18h1v1h-1zM19 18h1v1h-1zM20 18h2v1h-2zM23 18h2v1h-2zM27 18h1v1h-1zM28 18h1v1h-1zM29 18h2v1h-2zM34 18h1v1h-1zM36 18h5v1h-5zM42 18h1v1h-1zM3 19h2v1h-2zM5 19h1v1h-1zM7 19h1v1h-1zM8 19h1v1h-1zM10 19h1v1h-1zM11 19h1v1h-1zM12 19h1v1h-1zM16 19h1v1h-1zM20 19h1v1h-1zM21 19h1v1h-1zM22 19h5v1h-5zM28 19h1v1h-1zM34 19h2v1h-2zM36 19h1v1h-1zM42 19h1v1h-1zM43 19h1v1h-1zM0 20h1v1h-1zM4 20h1v1h-1zM5 20h1v1h-1zM6 20h1v1h-1zM7 20h2v1h-2zM9 20h1v1h-1zM10 20h2v1h-2zM16 20h1v1h-1zM19 20h1v1h-1zM23 20h1v1h-1zM24 20h2v1h-2zM28 20h1v1h-1zM29 20h1v1h-1zM30 20h1v1h-1zM32 20h1v1h-1zM35 20h1v1h-1zM38 20h1v1h-1zM39 20h2v1h-2zM41 20h1v1h-1zM42 20h1v1h-1zM43 20h1v1h-1zM1 21h1v1h-1zM2 21h3v1h-3zM6 21h1v1h-1zM8 21h1v1h-1zM9 21h1v1h-1zM10 21h2v1h-2zM12 21h1v1h-1zM13 21h2v1h-2zM15 21h1v1h-1zM16 21h3v1h-3zM19 21h1v1h-1zM22 21h1v1h-1zM23 21h1v1h-1zM24 21h1v1h-1zM26 21h4v1h-4zM31 21h3v1h-3zM34 21h1v1h-1zM35 21h1v1h-1zM36 21h1v1h-1zM38 21h1v1h-1zM40 21h1v1h-1zM41 21h2v1h-2zM43 21h1v1h-1zM3 22h2v1h-2zM6 22h1v1h-1zM8 22h1v1h-1zM10 22h1v1h-1zM11 22h1v1h-1zM12 22h1v1h-1zM14 22h1v1h-1zM15 22h1v1h-1zM18 22h1v1h-1zM19 22h1v1h-1zM20 22h1v1h-1zM21 22h1v1h-1zM22 22h1v1h-1zM23 22h1v1h-1zM24 22h1v1h-1zM26 22h1v1h-1zM27 22h1v1h-1zM28 22h1v1h-1zM30 22h3v1h-3zM33 22h2v1h-2zM36 22h1v1h-1zM38 22h2v1h-2zM40 22h1v1h-1zM43 22h1v1h-1zM1 23h2v1h-2zM3 23h1v1h-1zM4 23h2v1h-2zM6 23h1v1h-1zM7 23h1v1h-1zM8 23h1v1h-1zM10 23h1v1h-1zM11 23h1v1h-1zM14 23h1v1h-1zM18 23h1v1h-1zM20 23h1v1h-1zM21 23h1v1h-1zM23 23h1v1h-1zM24 23h1v1h-1zM27 23h1v1h-1zM28 23h1v1h-1zM30 23h1v1h-1zM31 23h2v1h-2zM34 23h1v1h-1zM36 23h1v1h-1zM37 23h1v1h-1zM39 23h2v1h-2zM42 23h1v1h-1zM0 24h1v1h-1zM4 24h2v1h-2zM6 24h1v1h-1zM10 24h1v1h-1zM11 24h1v1h-1zM12 24h1v1h-1zM14 24h1v1h-1zM15 24h1v1h-1zM17 24h1v1h-1zM18 24h1v1h-1zM19 24h1v1h-1zM21 24h1v1h-1zM22 24h1v1h-1zM23 24h1v1h-1zM24 24h2v1h-2zM27 24h3v1h-3zM31 24h2v1h-2zM33 24h1v1h-1zM35 24h1v1h-1zM42 24h1v1h-1zM43 24h1v1h-1zM2 25h1v1h-1zM5 25h1v1h-1zM6 25h2v1h-2zM8 25h1v1h-1zM11 25h2v1h-2zM16 25h1v1h-1zM18 25h1v1h-1zM20 25h1v1h-1zM21 25h1v1h-1zM24 25h1v1h-1zM25 25h1v1h-1zM26 25h1v1h-1zM27 25h2v1h-2zM31 25h2v1h-2zM35 25h3v1h-3zM39 25h1v1h-1zM43 25h1v1h-1zM1 26h2v1h-2zM5 26h1v1h-1zM9 26h1v1h-1zM10 26h1v1h-1zM15 26h3v1h-3zM19 26h1v1h-1zM22 26h1v1h-1zM26 26h1v1h-1zM27 26h1v1h-1zM28 26h2v1h-2zM32 26h2v1h-2zM34 26h1v1h-1zM35 26h1v1h-1zM38 26h1v1h-1zM39 26h2v1h-2zM41 26h1v1h-1zM43 26h1v1h-1zM1 27h2v1h-2zM4 27h2v1h-2zM6 27h1v1h-1zM7 27h1v1h-1zM8 27h2v1h-2zM10 27h1v1h-1zM13 27h1v1h-1zM15 27h1v1h-1zM17 27h1v1h-1zM22 27h2v1h-2zM24 27h1v1h-1zM25 27h1v1h-1zM30 27h4v1h-4zM37 27h1v1h-1zM38 27h1v1h-1zM39 27h2v1h-2zM41 27h3v1h-3zM0 28h1v1h-1zM1 28h1v1h-1zM4 28h1v1h-1zM5 28h4v1h-4zM9 28h1v1h-1zM17 28h1v1h-1zM18 28h1v1h-1zM19 28h1v1h-1zM23 28h1v1h-1zM24 28h2v1h-2zM26 28h2v1h-2zM29 28h1v1h-1zM31 28h2v1h-2zM33 28h1v1h-1zM34 28h1v1h-1zM35 28h1v1h-1zM36 28h1v1h-1zM38 28h1v1h-1zM39 28h1v1h-1zM41 28h1v1h-1zM42 28h1v1h-1zM43 28h1v1h-1zM2 29h3v1h-3zM5 29h1v1h-1zM7 29h1v1h-1zM8 29h1v1h-1zM10 29h1v1h-1zM13 29h1v1h-1zM16 29h1v1h-1zM17 29h2v1h-2zM19 29h1v1h-1zM20 29h1v1h-1zM22 29h2v1h-2zM26 29h1v1h-1zM31 29h1v1h-1zM32 29h2v1h-2zM34 29h1v1h-1zM36 29h1v1h-1zM38 29h1v1h-1zM39 29h2v1h-2zM41 29h1v1h-1zM42 29h1v1h-1zM43 29h1v1h-1zM1 30h1v1h-1zM3 30h1v1h-1zM4 30h1v1h-1zM5 30h1v1h-1zM6 30h2v1h-2zM10 30h1v1h-1zM12 30h1v1h-1zM14 30h1v1h-1zM15 30h1v1h-1zM18 30h2v1h-2zM20 30h1v1h-1zM22 30h2v1h-2zM25 30h1v1h-1zM28 30h2v1h-2zM30 30h6v1h-6zM36 30h2v1h-2zM38 30h1v1h-1zM39 30h1v1h-1zM40 30h1v1h-1zM41 30h1v1h-1zM42 30h1v1h-1zM43 30h1v1h-1zM1 31h1v1h-1zM3 31h2v1h-2zM5 31h1v1h-1zM6 31h1v1h-1zM8 31h1v1h-1zM10 31h2v1h-2zM14 31h1v1h-1zM16 31h1v1h-1zM17 31h1v1h-1zM19 31h3v1h-3zM23 31h1v1h-1zM25 31h4v1h-4zM30 31h1v1h-1zM32 31h1v1h-1zM34 31h2v1h-2zM36 31h3v1h-3zM40 31h1v1h-1zM41 31h3v1h-3zM3 32h1v1h-1zM4 32h2v1h-2zM6 32h2v1h-2zM8 32h1v1h-1zM9 32h2v1h-2zM11 32h2v1h-2zM16 32h1v1h-1zM17 32h1v1h-1zM18 32h1v1h-1zM19 32h1v1h-1zM23 32h5v1h-5zM28 32h1v1h-1zM29 32h2v1h-2zM31 32h1v1h-1zM32 32h1v1h-1zM33 32h1v1h-1zM35 32h1v1h-1zM36 32h4v1h-4zM40 32h1v1h-1zM42 32h1v1h-1zM43 32h1v1h-1zM0 33h1v1h-1zM2 33h1v1h-1zM7 33h1v1h-1zM10 33h2v1h-2zM14 33h1v1h-1zM17 33h2v1h-2zM21 33h1v1h-1zM22 33h2v1h-2zM28 33h3v1h-3zM31 33h1v1h-1zM32 33h1v1h-1zM34 33h1v1h-1zM37 33h1v1h-1zM41 33h2v1h-2zM43 33h1v1h-1zM0 34h1v1h-1zM3 34h1v1h-1zM6 34h1v1h-1zM9 34h4v1h-4zM15 34h1v1h-1zM16 34h2v1h-2zM21 34h1v1h-1zM22 34h1v1h-1zM24 34h1v1h-1zM25 34h1v1h-1zM26 34h2v1h-2zM28 34h2v1h-2zM31 34h1v1h-1zM34 34h1v1h-1zM35 34h2v1h-2zM37 34h1v1h-1zM38 34h3v1h-3zM41 34h1v1h-1zM42 34h1v1h-1zM1 35h7v1h-7zM9 35h1v1h-1zM11 35h1v1h-1zM12 35h2v1h-2zM15 35h2v1h-2zM17 35h1v1h-1zM20 35h1v1h-1zM21 35h2v1h-2zM24 35h4v1h-4zM30 35h3v1h-3zM33 35h1v1h-1zM35 35h1v1h-1zM36 35h1v1h-1zM37 35h1v1h-1zM38 35h1v1h-1zM43 35h1v1h-1zM1 36h1v1h-1zM4 36h1v1h-1zM5 36h1v1h-1zM7 36h2v1h-2zM9 36h3v1h-3zM13 36h1v1h-1zM14 36h3v1h-3zM17 36h2v1h-2zM19 36h1v1h-1zM21 36h1v1h-1zM22 36h1v1h-1zM25 36h2v1h-2zM28 36h1v1h-1zM34 36h2v1h-2zM38 36h1v1h-1zM39 36h1v1h-1zM40 36h1v1h-1zM42 36h1v1h-1zM43 36h1v1h-1zM4 37h1v1h-1zM10 37h1v1h-1zM11 37h1v1h-1zM12 37h1v1h-1zM13 37h2v1h-2zM15 37h2v1h-2zM17 37h1v1h-1zM19 37h1v1h-1zM20 37h3v1h-3zM24 37h1v1h-1zM25 37h1v1h-1zM26 37h1v1h-1zM27 37h1v1h-1zM31 37h1v1h-1zM34 37h1v1h-1zM35 37h1v1h-1zM36 37h1v1h-1zM37 37h2v1h-2zM40 37h1v1h-1zM42 37h2v1h-2zM0 38h2v1h-2zM2 38h1v1h-1zM4 38h1v1h-1zM5 38h1v1h-1zM7 38h1v1h-1zM8 38h2v1h-2zM13 38h1v1h-1zM14 38h2v1h-2zM17 38h1v1h-1zM18 38h1v1h-1zM19 38h1v1h-1zM21 38h1v1h-1zM23 38h1v1h-1zM24 38h1v1h-1zM27 38h2v1h-2zM29 38h1v1h-1zM33 38h1v1h-1zM34 38h1v1h-1zM35 38h2v1h-2zM38 38h1v1h-1zM40 38h1v1h-1zM42 38h1v1h-1zM2 39h1v1h-1zM4 39h5v1h-5zM9 39h2v1h-2zM12 39h2v1h-2zM14 39h3v1h-3zM17 39h1v1h-1zM19 39h1v1h-1zM26 39h1v1h-1zM27 39h2v1h-2zM29 39h2v1h-2zM31 39h1v1h-1zM32 39h1v1h-1zM33 39h1v1h-1zM37 39h1v1h-1zM38 39h1v1h-1zM40 39h1v1h-1zM42 39h1v1h-1zM43 39h1v1h-1zM0 40h2v1h-2zM2 40h1v1h-1zM4 40h1v1h-1zM5 40h1v1h-1zM8 40h3v1h-3zM11 40h1v1h-1zM12 40h1v1h-1zM13 40h2v1h-2zM16 40h1v1h-1zM17 40h1v1h-1zM19 40h1v1h-1zM20 40h1v1h-1zM22 40h1v1h-1zM26 40h1v1h-1zM27 40h1v1h-1zM28 40h1v1h-1zM29 40h1v1h-1zM34 40h2v1h-2zM40 40h3v1h-3zM43 40h1v1h-1zM0 41h1v1h-1zM3 41h2v1h-2zM5 41h1v1h-1zM7 41h2v1h-2zM10 41h1v1h-1zM12 41h1v1h-1zM15 41h1v1h-1zM16 41h1v1h-1zM17 41h1v1h-1zM18 41h1v1h-1zM20 41h1v1h-1zM21 41h1v1h-1zM22 41h1v1h-1zM23 41h1v1h-1zM24 41h1v1h-1zM26 41h1v1h-1zM28 41h1v1h-1zM29 41h1v1h-1zM30 41h1v1h-1zM31 41h1v1h-1zM32 41h4v1h-4zM36 41h1v1h-1zM38 41h1v1h-1zM39 41h1v1h-1zM40 41h3v1h-3zM43 41h1v1h-1zM0 42h3v1h-3zM7 42h1v1h-1zM8 42h1v1h-1zM9 42h1v1h-1zM12 42h1v1h-1zM13 42h1v1h-1zM15 42h1v1h-1zM18 42h2v1h-2zM22 42h2v1h-2zM24 42h1v1h-1zM25 42h2v1h-2zM29 42h4v1h-4zM33 42h1v1h-1zM34 42h1v1h-1zM37 42h1v1h-1zM43 42h1v1h-1zM4 43h1v1h-1zM6 43h1v1h-1zM8 43h1v1h-1zM9 43h1v1h-1zM10 43h1v1h-1zM12 43h2v1h-2zM15 43h1v1h-1zM18 43h2v1h-2zM20 43h1v1h-1zM21 43h1v1h-1zM22 43h3v1h-3zM25 43h1v1h-1zM26 43h2v1h-2zM30 43h1v1h-1zM32 43h1v1h-1zM33 43h1v1h-1zM34 43h1v1h-1zM35 43h1v1h-1zM36 43h1v1h-1zM37 43h1v1h-1zM43 43h1v1h-1z" fill="#000"/><path d="M38 0h1v1h-1zM33 1h1v1h-1zM40 1h1v1h-1zM41 1h1v1h-1zM7 2h1v1h-1zM8 2h1v1h-1zM26 3h1v1h-1zM18 4h1v1h-1zM7 5h1v1h-1zM26 5h1v1h-1zM32 6h1v1h-1zM5 9h1v1h-1zM17 13h1v1h-1zM5 15h1v1h-1zM3 16h1v1h-1zM42 16h1v1h-1zM1 17h1v1h-1zM26 17h1v1h-1zM9 18h1v1h-1zM16 18h1v1h-1zM17 18h1v1h-1zM18 18h1v1h-1zM39 19h1v1h-1zM36 20h1v1h-1zM25 22h1v1h-1zM0 23h1v1h-1zM12 23h1v1h-1zM30 25h1v1h-1zM23 26h1v1h-1zM12 27h1v1h-1zM26 33h1v1h-1zM39 33h1v1h-1zM6 36h1v1h-1zM26 38h1v1h-1zM30 38h1v1h-1zM7 40h1v1h-1zM25 41h1v1h-1zM27 41h1v1h-1zM3 42h1v1h-1zM5 43h1v1h-1zM29 43h1v1h-1z" fill="#ff2800"/><path d="M9 1h1v1h-1zM3 3h1v1h-1zM12 3h1v1h-1zM38 3h1v1h-1zM22 4h1v1h-1zM25 4h1v1h-1zM2 8h1v1h-1zM16 9h1v1h-1zM18 10h1v1h-1zM1 11h1v1h-1zM22 11h1v1h-1zM39 14h1v1h-1zM9 16h1v1h-1zM8 18h1v1h-1zM17 20h1v1h-1zM15 23h1v1h-1zM3 24h1v1h-1zM36 24h1v1h-1zM4 26h1v1h-1zM24 26h1v1h-1zM0 29h1v1h-1zM16 30h1v1h-1zM27 30h1v1h-1zM14 32h1v1h-1zM20 33h1v1h-1zM14 35h1v1h-1zM0 36h1v1h-1zM24 36h1v1h-1z" fill="#ff9a10"/></g></pattern>
<pattern id="nzC" width="88.80" height="88.80" patternUnits="userSpaceOnUse" x="39" y="2"><g transform="scale(2.22)" shape-rendering="crispEdges"><rect width="40" height="40" fill="#fff"/><path d="M1 0h1v1h-1zM5 0h1v1h-1zM6 0h1v1h-1zM8 0h1v1h-1zM13 0h2v1h-2zM15 0h1v1h-1zM20 0h1v1h-1zM21 0h1v1h-1zM22 0h1v1h-1zM24 0h1v1h-1zM25 0h1v1h-1zM26 0h1v1h-1zM29 0h1v1h-1zM33 0h1v1h-1zM36 0h1v1h-1zM39 0h1v1h-1zM1 1h2v1h-2zM3 1h2v1h-2zM5 1h1v1h-1zM8 1h1v1h-1zM11 1h1v1h-1zM13 1h1v1h-1zM14 1h1v1h-1zM15 1h1v1h-1zM16 1h1v1h-1zM20 1h1v1h-1zM22 1h1v1h-1zM24 1h1v1h-1zM25 1h2v1h-2zM2 2h1v1h-1zM3 2h3v1h-3zM8 2h1v1h-1zM9 2h1v1h-1zM12 2h1v1h-1zM13 2h2v1h-2zM16 2h1v1h-1zM17 2h1v1h-1zM18 2h2v1h-2zM20 2h1v1h-1zM22 2h1v1h-1zM24 2h1v1h-1zM26 2h1v1h-1zM34 2h1v1h-1zM36 2h1v1h-1zM39 2h1v1h-1zM1 3h2v1h-2zM6 3h1v1h-1zM7 3h1v1h-1zM8 3h1v1h-1zM13 3h1v1h-1zM18 3h1v1h-1zM20 3h1v1h-1zM24 3h1v1h-1zM26 3h2v1h-2zM28 3h2v1h-2zM32 3h2v1h-2zM34 3h3v1h-3zM0 4h1v1h-1zM2 4h1v1h-1zM4 4h1v1h-1zM7 4h1v1h-1zM8 4h2v1h-2zM10 4h1v1h-1zM11 4h1v1h-1zM15 4h1v1h-1zM19 4h1v1h-1zM21 4h1v1h-1zM28 4h1v1h-1zM29 4h1v1h-1zM30 4h1v1h-1zM32 4h1v1h-1zM33 4h1v1h-1zM38 4h1v1h-1zM39 4h1v1h-1zM0 5h1v1h-1zM2 5h1v1h-1zM3 5h1v1h-1zM6 5h1v1h-1zM7 5h1v1h-1zM9 5h1v1h-1zM10 5h1v1h-1zM12 5h1v1h-1zM16 5h1v1h-1zM17 5h1v1h-1zM19 5h1v1h-1zM23 5h1v1h-1zM26 5h3v1h-3zM31 5h2v1h-2zM33 5h1v1h-1zM34 5h1v1h-1zM36 5h1v1h-1zM37 5h1v1h-1zM38 5h1v1h-1zM1 6h1v1h-1zM3 6h3v1h-3zM6 6h2v1h-2zM8 6h1v1h-1zM12 6h1v1h-1zM14 6h1v1h-1zM19 6h1v1h-1zM21 6h1v1h-1zM22 6h1v1h-1zM23 6h1v1h-1zM28 6h1v1h-1zM29 6h1v1h-1zM30 6h1v1h-1zM31 6h1v1h-1zM32 6h1v1h-1zM37 6h1v1h-1zM0 7h1v1h-1zM1 7h2v1h-2zM3 7h1v1h-1zM8 7h1v1h-1zM12 7h1v1h-1zM13 7h1v1h-1zM16 7h1v1h-1zM24 7h1v1h-1zM25 7h1v1h-1zM26 7h1v1h-1zM28 7h1v1h-1zM32 7h1v1h-1zM38 7h2v1h-2zM2 8h1v1h-1zM5 8h1v1h-1zM7 8h1v1h-1zM8 8h1v1h-1zM9 8h1v1h-1zM12 8h1v1h-1zM13 8h1v1h-1zM15 8h2v1h-2zM17 8h1v1h-1zM19 8h1v1h-1zM21 8h1v1h-1zM22 8h1v1h-1zM24 8h1v1h-1zM27 8h2v1h-2zM34 8h1v1h-1zM35 8h1v1h-1zM36 8h1v1h-1zM1 9h1v1h-1zM2 9h1v1h-1zM3 9h1v1h-1zM4 9h1v1h-1zM6 9h1v1h-1zM10 9h1v1h-1zM15 9h1v1h-1zM20 9h2v1h-2zM25 9h2v1h-2zM28 9h1v1h-1zM29 9h1v1h-1zM32 9h1v1h-1zM34 9h1v1h-1zM35 9h1v1h-1zM37 9h1v1h-1zM38 9h1v1h-1zM39 9h1v1h-1zM0 10h1v1h-1zM1 10h1v1h-1zM2 10h1v1h-1zM3 10h1v1h-1zM4 10h1v1h-1zM8 10h1v1h-1zM10 10h1v1h-1zM11 10h1v1h-1zM13 10h2v1h-2zM15 10h1v1h-1zM16 10h1v1h-1zM22 10h1v1h-1zM23 10h1v1h-1zM27 10h1v1h-1zM30 10h3v1h-3zM33 10h1v1h-1zM37 10h1v1h-1zM0 11h1v1h-1zM2 11h1v1h-1zM3 11h2v1h-2zM5 11h3v1h-3zM11 11h1v1h-1zM12 11h2v1h-2zM14 11h2v1h-2zM18 11h1v1h-1zM19 11h1v1h-1zM20 11h1v1h-1zM21 11h1v1h-1zM22 11h1v1h-1zM24 11h1v1h-1zM25 11h1v1h-1zM27 11h2v1h-2zM31 11h1v1h-1zM35 11h1v1h-1zM0 12h1v1h-1zM5 12h1v1h-1zM9 12h1v1h-1zM10 12h1v1h-1zM14 12h1v1h-1zM26 12h1v1h-1zM30 12h2v1h-2zM34 12h2v1h-2zM0 13h1v1h-1zM2 13h2v1h-2zM4 13h1v1h-1zM5 13h2v1h-2zM9 13h1v1h-1zM10 13h3v1h-3zM14 13h1v1h-1zM17 13h1v1h-1zM18 13h1v1h-1zM19 13h2v1h-2zM24 13h1v1h-1zM27 13h2v1h-2zM29 13h1v1h-1zM31 13h2v1h-2zM36 13h1v1h-1zM38 13h2v1h-2zM0 14h1v1h-1zM3 14h2v1h-2zM9 14h1v1h-1zM11 14h1v1h-1zM16 14h1v1h-1zM17 14h2v1h-2zM26 14h2v1h-2zM34 14h2v1h-2zM38 14h1v1h-1zM1 15h1v1h-1zM2 15h1v1h-1zM9 15h2v1h-2zM11 15h1v1h-1zM13 15h1v1h-1zM15 15h1v1h-1zM16 15h1v1h-1zM19 15h1v1h-1zM20 15h1v1h-1zM22 15h1v1h-1zM23 15h1v1h-1zM24 15h1v1h-1zM25 15h1v1h-1zM35 15h1v1h-1zM36 15h1v1h-1zM38 15h2v1h-2zM0 16h1v1h-1zM1 16h1v1h-1zM4 16h1v1h-1zM10 16h1v1h-1zM12 16h1v1h-1zM13 16h2v1h-2zM19 16h1v1h-1zM21 16h1v1h-1zM23 16h2v1h-2zM28 16h1v1h-1zM31 16h3v1h-3zM37 16h2v1h-2zM39 16h1v1h-1zM1 17h1v1h-1zM3 17h1v1h-1zM4 17h1v1h-1zM7 17h1v1h-1zM9 17h1v1h-1zM10 17h2v1h-2zM17 17h1v1h-1zM19 17h1v1h-1zM20 17h1v1h-1zM23 17h1v1h-1zM24 17h1v1h-1zM26 17h2v1h-2zM28 17h1v1h-1zM29 17h1v1h-1zM31 17h1v1h-1zM32 17h1v1h-1zM34 17h1v1h-1zM36 17h1v1h-1zM37 17h1v1h-1zM2 18h1v1h-1zM3 18h1v1h-1zM5 18h1v1h-1zM6 18h4v1h-4zM10 18h1v1h-1zM12 18h2v1h-2zM14 18h1v1h-1zM21 18h1v1h-1zM25 18h4v1h-4zM29 18h2v1h-2zM33 18h2v1h-2zM35 18h1v1h-1zM37 18h3v1h-3zM0 19h2v1h-2zM2 19h1v1h-1zM3 19h1v1h-1zM6 19h1v1h-1zM11 19h1v1h-1zM13 19h2v1h-2zM16 19h1v1h-1zM18 19h1v1h-1zM19 19h1v1h-1zM20 19h1v1h-1zM26 19h1v1h-1zM27 19h4v1h-4zM31 19h5v1h-5zM36 19h2v1h-2zM38 19h1v1h-1zM39 19h1v1h-1zM0 20h1v1h-1zM3 20h1v1h-1zM4 20h1v1h-1zM5 20h2v1h-2zM8 20h1v1h-1zM10 20h2v1h-2zM13 20h1v1h-1zM14 20h1v1h-1zM15 20h1v1h-1zM17 20h2v1h-2zM19 20h1v1h-1zM21 20h1v1h-1zM22 20h1v1h-1zM25 20h1v1h-1zM31 20h1v1h-1zM32 20h1v1h-1zM39 20h1v1h-1zM2 21h1v1h-1zM4 21h1v1h-1zM6 21h1v1h-1zM8 21h3v1h-3zM13 21h1v1h-1zM16 21h1v1h-1zM23 21h1v1h-1zM24 21h1v1h-1zM25 21h1v1h-1zM26 21h1v1h-1zM30 21h1v1h-1zM33 21h1v1h-1zM34 21h1v1h-1zM39 21h1v1h-1zM0 22h2v1h-2zM6 22h1v1h-1zM7 22h1v1h-1zM9 22h1v1h-1zM10 22h1v1h-1zM11 22h2v1h-2zM15 22h2v1h-2zM18 22h1v1h-1zM25 22h1v1h-1zM26 22h1v1h-1zM32 22h1v1h-1zM35 22h1v1h-1zM39 22h1v1h-1zM5 23h1v1h-1zM7 23h1v1h-1zM10 23h1v1h-1zM11 23h1v1h-1zM13 23h1v1h-1zM19 23h1v1h-1zM20 23h2v1h-2zM22 23h1v1h-1zM23 23h2v1h-2zM28 23h1v1h-1zM32 23h2v1h-2zM34 23h1v1h-1zM35 23h1v1h-1zM37 23h1v1h-1zM38 23h2v1h-2zM2 24h1v1h-1zM3 24h1v1h-1zM4 24h1v1h-1zM8 24h1v1h-1zM9 24h1v1h-1zM13 24h2v1h-2zM16 24h1v1h-1zM18 24h1v1h-1zM19 24h2v1h-2zM22 24h1v1h-1zM23 24h1v1h-1zM24 24h2v1h-2zM26 24h1v1h-1zM28 24h2v1h-2zM30 24h1v1h-1zM36 24h1v1h-1zM37 24h2v1h-2zM4 25h1v1h-1zM6 25h2v1h-2zM10 25h2v1h-2zM12 25h1v1h-1zM13 25h1v1h-1zM14 25h1v1h-1zM22 25h2v1h-2zM24 25h1v1h-1zM26 25h1v1h-1zM30 25h2v1h-2zM33 25h1v1h-1zM34 25h1v1h-1zM35 25h1v1h-1zM37 25h1v1h-1zM38 25h1v1h-1zM39 25h1v1h-1zM0 26h2v1h-2zM4 26h2v1h-2zM6 26h1v1h-1zM8 26h1v1h-1zM9 26h1v1h-1zM11 26h2v1h-2zM13 26h1v1h-1zM16 26h1v1h-1zM17 26h1v1h-1zM18 26h1v1h-1zM19 26h1v1h-1zM21 26h1v1h-1zM23 26h1v1h-1zM24 26h1v1h-1zM26 26h1v1h-1zM28 26h1v1h-1zM29 26h2v1h-2zM31 26h1v1h-1zM34 26h1v1h-1zM37 26h1v1h-1zM0 27h1v1h-1zM1 27h1v1h-1zM3 27h1v1h-1zM7 27h2v1h-2zM12 27h2v1h-2zM17 27h1v1h-1zM20 27h1v1h-1zM21 27h1v1h-1zM24 27h2v1h-2zM26 27h1v1h-1zM27 27h1v1h-1zM30 27h1v1h-1zM33 27h1v1h-1zM35 27h1v1h-1zM36 27h1v1h-1zM37 27h1v1h-1zM38 27h1v1h-1zM39 27h1v1h-1zM3 28h1v1h-1zM4 28h1v1h-1zM9 28h1v1h-1zM18 28h1v1h-1zM20 28h1v1h-1zM24 28h1v1h-1zM28 28h1v1h-1zM30 28h3v1h-3zM34 28h1v1h-1zM35 28h1v1h-1zM36 28h1v1h-1zM1 29h1v1h-1zM5 29h1v1h-1zM12 29h1v1h-1zM18 29h1v1h-1zM20 29h1v1h-1zM23 29h1v1h-1zM25 29h1v1h-1zM27 29h1v1h-1zM29 29h1v1h-1zM30 29h1v1h-1zM34 29h1v1h-1zM36 29h2v1h-2zM39 29h1v1h-1zM0 30h1v1h-1zM3 30h1v1h-1zM5 30h1v1h-1zM6 30h1v1h-1zM8 30h1v1h-1zM12 30h2v1h-2zM14 30h2v1h-2zM16 30h1v1h-1zM18 30h2v1h-2zM20 30h1v1h-1zM21 30h1v1h-1zM22 30h1v1h-1zM26 30h1v1h-1zM27 30h3v1h-3zM30 30h1v1h-1zM31 30h2v1h-2zM33 30h1v1h-1zM34 30h1v1h-1zM39 30h1v1h-1zM4 31h1v1h-1zM5 31h1v1h-1zM6 31h1v1h-1zM8 31h1v1h-1zM9 31h1v1h-1zM11 31h3v1h-3zM17 31h1v1h-1zM19 31h1v1h-1zM23 31h1v1h-1zM27 31h1v1h-1zM30 31h2v1h-2zM32 31h1v1h-1zM36 31h2v1h-2zM38 31h1v1h-1zM39 31h1v1h-1zM3 32h2v1h-2zM5 32h1v1h-1zM6 32h1v1h-1zM7 32h2v1h-2zM9 32h1v1h-1zM11 32h1v1h-1zM12 32h1v1h-1zM13 32h1v1h-1zM15 32h1v1h-1zM16 32h1v1h-1zM20 32h1v1h-1zM22 32h1v1h-1zM25 32h1v1h-1zM26 32h1v1h-1zM27 32h2v1h-2zM29 32h1v1h-1zM33 32h1v1h-1zM36 32h1v1h-1zM37 32h1v1h-1zM39 32h1v1h-1zM1 33h3v1h-3zM4 33h3v1h-3zM9 33h1v1h-1zM12 33h1v1h-1zM14 33h1v1h-1zM15 33h1v1h-1zM17 33h1v1h-1zM19 33h2v1h-2zM21 33h1v1h-1zM22 33h1v1h-1zM26 33h2v1h-2zM28 33h4v1h-4zM32 33h1v1h-1zM39 33h1v1h-1zM0 34h2v1h-2zM2 34h1v1h-1zM6 34h1v1h-1zM7 34h1v1h-1zM9 34h1v1h-1zM10 34h1v1h-1zM11 34h1v1h-1zM13 34h1v1h-1zM17 34h1v1h-1zM18 34h3v1h-3zM22 34h1v1h-1zM24 34h2v1h-2zM29 34h1v1h-1zM30 34h1v1h-1zM8 35h1v1h-1zM9 35h1v1h-1zM15 35h1v1h-1zM23 35h1v1h-1zM24 35h3v1h-3zM27 35h1v1h-1zM29 35h1v1h-1zM30 35h2v1h-2zM32 35h2v1h-2zM36 35h1v1h-1zM2 36h1v1h-1zM3 36h1v1h-1zM4 36h1v1h-1zM6 36h2v1h-2zM11 36h1v1h-1zM16 36h1v1h-1zM18 36h1v1h-1zM20 36h1v1h-1zM24 36h1v1h-1zM25 36h1v1h-1zM28 36h1v1h-1zM29 36h2v1h-2zM32 36h1v1h-1zM33 36h1v1h-1zM34 36h1v1h-1zM35 36h1v1h-1zM37 36h3v1h-3zM1 37h1v1h-1zM3 37h1v1h-1zM5 37h1v1h-1zM6 37h1v1h-1zM8 37h1v1h-1zM11 37h1v1h-1zM14 37h1v1h-1zM24 37h1v1h-1zM26 37h1v1h-1zM29 37h1v1h-1zM31 37h1v1h-1zM32 37h2v1h-2zM37 37h1v1h-1zM1 38h3v1h-3zM5 38h1v1h-1zM7 38h1v1h-1zM8 38h1v1h-1zM11 38h1v1h-1zM13 38h1v1h-1zM15 38h1v1h-1zM16 38h1v1h-1zM18 38h2v1h-2zM21 38h1v1h-1zM23 38h1v1h-1zM24 38h1v1h-1zM27 38h1v1h-1zM28 38h1v1h-1zM31 38h1v1h-1zM32 38h1v1h-1zM35 38h1v1h-1zM37 38h3v1h-3zM1 39h5v1h-5zM10 39h1v1h-1zM11 39h1v1h-1zM14 39h3v1h-3zM27 39h2v1h-2zM30 39h1v1h-1zM33 39h1v1h-1zM34 39h1v1h-1zM37 39h1v1h-1zM39 39h1v1h-1z" fill="#000"/><path d="M34 0h1v1h-1zM37 0h1v1h-1zM6 1h1v1h-1zM7 1h1v1h-1zM9 1h1v1h-1zM27 1h1v1h-1zM29 1h1v1h-1zM37 1h1v1h-1zM31 2h1v1h-1zM35 2h1v1h-1zM0 3h1v1h-1zM10 3h1v1h-1zM11 3h1v1h-1zM23 3h1v1h-1zM34 4h1v1h-1zM36 4h1v1h-1zM37 4h1v1h-1zM14 5h1v1h-1zM21 5h1v1h-1zM25 5h1v1h-1zM29 5h1v1h-1zM30 5h1v1h-1zM2 6h1v1h-1zM15 6h1v1h-1zM22 7h1v1h-1zM18 8h1v1h-1zM33 8h1v1h-1zM22 9h1v1h-1zM23 9h1v1h-1zM19 10h1v1h-1zM20 10h1v1h-1zM28 10h1v1h-1zM39 10h1v1h-1zM16 12h1v1h-1zM18 12h1v1h-1zM21 12h1v1h-1zM29 12h1v1h-1zM22 13h1v1h-1zM2 14h1v1h-1zM12 14h1v1h-1zM33 14h1v1h-1zM39 14h1v1h-1zM28 15h1v1h-1zM30 15h1v1h-1zM33 15h1v1h-1zM15 16h1v1h-1zM26 16h1v1h-1zM27 16h1v1h-1zM36 16h1v1h-1zM35 17h1v1h-1zM15 18h1v1h-1zM4 19h1v1h-1zM9 19h1v1h-1zM24 19h1v1h-1zM9 20h1v1h-1zM38 20h1v1h-1zM0 21h1v1h-1zM7 21h1v1h-1zM12 21h1v1h-1zM15 21h1v1h-1zM35 21h1v1h-1zM2 22h1v1h-1zM4 22h1v1h-1zM5 22h1v1h-1zM27 22h1v1h-1zM31 22h1v1h-1zM0 23h1v1h-1zM1 23h1v1h-1zM3 23h1v1h-1zM8 23h1v1h-1zM18 23h1v1h-1zM0 24h1v1h-1zM11 24h1v1h-1zM17 24h1v1h-1zM32 24h1v1h-1zM35 24h1v1h-1zM25 25h1v1h-1zM14 26h1v1h-1zM20 26h1v1h-1zM32 26h1v1h-1zM38 26h1v1h-1zM22 27h1v1h-1zM34 27h1v1h-1zM1 28h1v1h-1zM6 28h1v1h-1zM16 28h1v1h-1zM22 28h1v1h-1zM2 29h1v1h-1zM3 29h1v1h-1zM6 29h1v1h-1zM32 29h1v1h-1zM33 29h1v1h-1zM1 30h1v1h-1zM7 30h1v1h-1zM11 30h1v1h-1zM38 30h1v1h-1zM15 31h1v1h-1zM20 31h1v1h-1zM26 31h1v1h-1zM28 31h1v1h-1zM0 32h1v1h-1zM1 32h1v1h-1zM30 32h1v1h-1zM16 33h1v1h-1zM38 33h1v1h-1zM4 34h1v1h-1zM8 34h1v1h-1zM16 34h1v1h-1zM35 34h1v1h-1zM38 34h1v1h-1zM0 35h1v1h-1zM18 35h1v1h-1zM19 35h1v1h-1zM5 36h1v1h-1zM19 36h1v1h-1zM4 37h1v1h-1zM34 37h1v1h-1zM0 39h1v1h-1zM31 39h1v1h-1z" fill="#ff2800"/><path d="M4 0h1v1h-1zM10 0h1v1h-1zM31 0h1v1h-1zM38 1h1v1h-1zM25 3h1v1h-1zM18 4h1v1h-1zM23 4h1v1h-1zM20 6h1v1h-1zM34 6h1v1h-1zM9 7h1v1h-1zM21 7h1v1h-1zM23 7h1v1h-1zM27 7h1v1h-1zM30 7h1v1h-1zM23 8h1v1h-1zM31 8h1v1h-1zM32 8h1v1h-1zM9 9h1v1h-1zM19 9h1v1h-1zM18 10h1v1h-1zM8 11h1v1h-1zM11 12h1v1h-1zM15 13h1v1h-1zM21 13h1v1h-1zM5 14h1v1h-1zM14 14h1v1h-1zM21 14h1v1h-1zM23 14h1v1h-1zM21 15h1v1h-1zM27 15h1v1h-1zM2 16h1v1h-1zM8 17h1v1h-1zM15 17h1v1h-1zM0 18h1v1h-1zM16 18h1v1h-1zM17 18h1v1h-1zM1 20h1v1h-1zM24 20h1v1h-1zM33 20h1v1h-1zM22 21h1v1h-1zM17 22h1v1h-1zM6 24h1v1h-1zM20 25h1v1h-1zM25 26h1v1h-1zM36 26h1v1h-1zM4 27h1v1h-1zM19 27h1v1h-1zM7 29h1v1h-1zM4 30h1v1h-1zM1 31h1v1h-1zM34 31h1v1h-1zM18 32h1v1h-1zM25 33h1v1h-1zM28 34h1v1h-1zM10 35h1v1h-1zM15 36h1v1h-1zM31 36h1v1h-1zM23 37h1v1h-1zM35 37h1v1h-1zM38 37h1v1h-1zM39 37h1v1h-1zM4 38h1v1h-1zM9 38h1v1h-1zM10 38h1v1h-1zM26 38h1v1h-1zM33 38h1v1h-1zM32 39h1v1h-1z" fill="#ff9a10"/></g></pattern>
<pattern id="nzD" width="88.80" height="88.80" patternUnits="userSpaceOnUse" x="39" y="2"><g transform="scale(2.22)" shape-rendering="crispEdges"><rect width="40" height="40" fill="#fff"/><path d="M0 0h1v1h-1zM1 0h1v1h-1zM2 0h1v1h-1zM4 0h1v1h-1zM5 0h1v1h-1zM6 0h1v1h-1zM7 0h1v1h-1zM8 0h1v1h-1zM10 0h2v1h-2zM13 0h1v1h-1zM14 0h1v1h-1zM19 0h1v1h-1zM24 0h2v1h-2zM26 0h2v1h-2zM28 0h2v1h-2zM30 0h1v1h-1zM31 0h3v1h-3zM34 0h1v1h-1zM35 0h1v1h-1zM39 0h1v1h-1zM0 1h1v1h-1zM5 1h1v1h-1zM6 1h1v1h-1zM7 1h1v1h-1zM9 1h1v1h-1zM10 1h2v1h-2zM12 1h1v1h-1zM13 1h1v1h-1zM15 1h1v1h-1zM16 1h1v1h-1zM17 1h1v1h-1zM18 1h1v1h-1zM19 1h1v1h-1zM21 1h1v1h-1zM22 1h1v1h-1zM23 1h1v1h-1zM25 1h1v1h-1zM26 1h1v1h-1zM27 1h2v1h-2zM29 1h1v1h-1zM33 1h2v1h-2zM35 1h1v1h-1zM36 1h1v1h-1zM38 1h2v1h-2zM0 2h1v1h-1zM1 2h1v1h-1zM2 2h1v1h-1zM3 2h3v1h-3zM8 2h1v1h-1zM9 2h1v1h-1zM10 2h1v1h-1zM11 2h1v1h-1zM13 2h2v1h-2zM15 2h1v1h-1zM17 2h1v1h-1zM19 2h1v1h-1zM22 2h1v1h-1zM23 2h1v1h-1zM24 2h2v1h-2zM27 2h2v1h-2zM29 2h1v1h-1zM30 2h1v1h-1zM31 2h1v1h-1zM32 2h1v1h-1zM34 2h1v1h-1zM36 2h3v1h-3zM39 2h1v1h-1zM1 3h3v1h-3zM4 3h1v1h-1zM6 3h3v1h-3zM9 3h2v1h-2zM12 3h2v1h-2zM16 3h3v1h-3zM19 3h1v1h-1zM20 3h3v1h-3zM23 3h1v1h-1zM24 3h3v1h-3zM27 3h2v1h-2zM32 3h3v1h-3zM35 3h1v1h-1zM36 3h1v1h-1zM38 3h1v1h-1zM39 3h1v1h-1zM1 4h1v1h-1zM2 4h2v1h-2zM5 4h3v1h-3zM9 4h3v1h-3zM12 4h1v1h-1zM15 4h2v1h-2zM17 4h1v1h-1zM18 4h1v1h-1zM19 4h4v1h-4zM24 4h1v1h-1zM25 4h3v1h-3zM30 4h1v1h-1zM31 4h1v1h-1zM32 4h1v1h-1zM33 4h1v1h-1zM36 4h1v1h-1zM37 4h2v1h-2zM39 4h1v1h-1zM0 5h1v1h-1zM2 5h1v1h-1zM3 5h2v1h-2zM5 5h2v1h-2zM7 5h3v1h-3zM10 5h1v1h-1zM11 5h2v1h-2zM14 5h3v1h-3zM17 5h1v1h-1zM19 5h3v1h-3zM25 5h1v1h-1zM26 5h2v1h-2zM28 5h1v1h-1zM29 5h3v1h-3zM33 5h2v1h-2zM35 5h1v1h-1zM36 5h1v1h-1zM38 5h2v1h-2zM0 6h1v1h-1zM3 6h6v1h-6zM9 6h1v1h-1zM10 6h1v1h-1zM12 6h2v1h-2zM14 6h2v1h-2zM17 6h4v1h-4zM22 6h2v1h-2zM24 6h1v1h-1zM26 6h2v1h-2zM28 6h1v1h-1zM31 6h1v1h-1zM32 6h1v1h-1zM33 6h2v1h-2zM36 6h1v1h-1zM38 6h1v1h-1zM0 7h1v1h-1zM1 7h1v1h-1zM2 7h1v1h-1zM3 7h1v1h-1zM5 7h1v1h-1zM6 7h1v1h-1zM10 7h2v1h-2zM12 7h2v1h-2zM14 7h2v1h-2zM16 7h1v1h-1zM17 7h3v1h-3zM20 7h3v1h-3zM23 7h2v1h-2zM25 7h5v1h-5zM30 7h1v1h-1zM31 7h1v1h-1zM32 7h1v1h-1zM34 7h2v1h-2zM36 7h1v1h-1zM37 7h3v1h-3zM0 8h1v1h-1zM1 8h2v1h-2zM4 8h2v1h-2zM7 8h2v1h-2zM9 8h1v1h-1zM10 8h2v1h-2zM13 8h2v1h-2zM15 8h2v1h-2zM17 8h1v1h-1zM18 8h2v1h-2zM20 8h2v1h-2zM22 8h2v1h-2zM24 8h1v1h-1zM25 8h1v1h-1zM26 8h1v1h-1zM27 8h5v1h-5zM32 8h2v1h-2zM36 8h4v1h-4zM1 9h1v1h-1zM2 9h4v1h-4zM6 9h2v1h-2zM8 9h1v1h-1zM9 9h1v1h-1zM10 9h2v1h-2zM15 9h2v1h-2zM17 9h1v1h-1zM18 9h1v1h-1zM19 9h2v1h-2zM21 9h1v1h-1zM24 9h1v1h-1zM25 9h1v1h-1zM26 9h2v1h-2zM28 9h1v1h-1zM30 9h1v1h-1zM31 9h2v1h-2zM34 9h1v1h-1zM35 9h2v1h-2zM37 9h2v1h-2zM39 9h1v1h-1zM0 10h2v1h-2zM2 10h1v1h-1zM3 10h3v1h-3zM6 10h1v1h-1zM8 10h2v1h-2zM11 10h1v1h-1zM12 10h1v1h-1zM13 10h1v1h-1zM14 10h1v1h-1zM15 10h2v1h-2zM17 10h2v1h-2zM19 10h1v1h-1zM20 10h1v1h-1zM21 10h2v1h-2zM23 10h2v1h-2zM26 10h1v1h-1zM27 10h2v1h-2zM30 10h1v1h-1zM31 10h1v1h-1zM32 10h1v1h-1zM33 10h1v1h-1zM34 10h2v1h-2zM36 10h3v1h-3zM39 10h1v1h-1zM0 11h4v1h-4zM4 11h1v1h-1zM5 11h1v1h-1zM6 11h2v1h-2zM9 11h1v1h-1zM10 11h1v1h-1zM11 11h1v1h-1zM12 11h1v1h-1zM13 11h1v1h-1zM15 11h1v1h-1zM16 11h1v1h-1zM17 11h1v1h-1zM18 11h2v1h-2zM21 11h1v1h-1zM22 11h1v1h-1zM23 11h2v1h-2zM25 11h1v1h-1zM26 11h2v1h-2zM28 11h6v1h-6zM34 11h1v1h-1zM35 11h1v1h-1zM36 11h2v1h-2zM0 12h1v1h-1zM2 12h1v1h-1zM3 12h1v1h-1zM4 12h4v1h-4zM8 12h2v1h-2zM10 12h1v1h-1zM11 12h1v1h-1zM12 12h1v1h-1zM13 12h1v1h-1zM16 12h3v1h-3zM19 12h1v1h-1zM20 12h1v1h-1zM21 12h2v1h-2zM23 12h1v1h-1zM24 12h2v1h-2zM26 12h1v1h-1zM27 12h1v1h-1zM29 12h1v1h-1zM32 12h1v1h-1zM34 12h2v1h-2zM36 12h4v1h-4zM1 13h1v1h-1zM3 13h3v1h-3zM7 13h7v1h-7zM14 13h1v1h-1zM15 13h2v1h-2zM18 13h1v1h-1zM19 13h1v1h-1zM23 13h1v1h-1zM24 13h3v1h-3zM27 13h1v1h-1zM28 13h1v1h-1zM30 13h1v1h-1zM31 13h2v1h-2zM35 13h2v1h-2zM38 13h2v1h-2zM2 14h1v1h-1zM3 14h1v1h-1zM4 14h5v1h-5zM9 14h1v1h-1zM11 14h1v1h-1zM12 14h1v1h-1zM13 14h1v1h-1zM14 14h1v1h-1zM15 14h1v1h-1zM16 14h2v1h-2zM18 14h2v1h-2zM22 14h2v1h-2zM24 14h1v1h-1zM25 14h3v1h-3zM28 14h1v1h-1zM29 14h1v1h-1zM30 14h1v1h-1zM31 14h1v1h-1zM34 14h1v1h-1zM37 14h1v1h-1zM39 14h1v1h-1zM0 15h1v1h-1zM1 15h1v1h-1zM4 15h3v1h-3zM7 15h1v1h-1zM8 15h4v1h-4zM12 15h1v1h-1zM13 15h1v1h-1zM14 15h1v1h-1zM15 15h1v1h-1zM17 15h2v1h-2zM19 15h1v1h-1zM20 15h2v1h-2zM22 15h2v1h-2zM24 15h1v1h-1zM25 15h2v1h-2zM28 15h1v1h-1zM29 15h1v1h-1zM31 15h1v1h-1zM32 15h1v1h-1zM33 15h3v1h-3zM36 15h3v1h-3zM39 15h1v1h-1zM1 16h1v1h-1zM2 16h3v1h-3zM5 16h3v1h-3zM8 16h1v1h-1zM10 16h1v1h-1zM11 16h1v1h-1zM12 16h1v1h-1zM14 16h1v1h-1zM17 16h1v1h-1zM18 16h1v1h-1zM19 16h1v1h-1zM20 16h4v1h-4zM25 16h3v1h-3zM28 16h3v1h-3zM31 16h1v1h-1zM32 16h2v1h-2zM34 16h1v1h-1zM36 16h3v1h-3zM39 16h1v1h-1zM0 17h1v1h-1zM1 17h3v1h-3zM4 17h1v1h-1zM5 17h1v1h-1zM6 17h1v1h-1zM7 17h3v1h-3zM12 17h1v1h-1zM13 17h1v1h-1zM14 17h1v1h-1zM15 17h1v1h-1zM16 17h1v1h-1zM17 17h1v1h-1zM18 17h3v1h-3zM21 17h1v1h-1zM22 17h1v1h-1zM23 17h1v1h-1zM24 17h2v1h-2zM26 17h1v1h-1zM27 17h1v1h-1zM28 17h1v1h-1zM29 17h1v1h-1zM32 17h2v1h-2zM34 17h1v1h-1zM35 17h1v1h-1zM37 17h2v1h-2zM39 17h1v1h-1zM1 18h1v1h-1zM2 18h1v1h-1zM3 18h1v1h-1zM5 18h1v1h-1zM6 18h3v1h-3zM10 18h1v1h-1zM11 18h1v1h-1zM12 18h2v1h-2zM14 18h3v1h-3zM17 18h3v1h-3zM20 18h1v1h-1zM21 18h1v1h-1zM22 18h2v1h-2zM24 18h1v1h-1zM25 18h2v1h-2zM28 18h1v1h-1zM29 18h3v1h-3zM32 18h1v1h-1zM33 18h1v1h-1zM36 18h1v1h-1zM37 18h1v1h-1zM38 18h1v1h-1zM39 18h1v1h-1zM0 19h5v1h-5zM5 19h1v1h-1zM6 19h1v1h-1zM7 19h1v1h-1zM8 19h3v1h-3zM11 19h1v1h-1zM12 19h6v1h-6zM18 19h3v1h-3zM21 19h1v1h-1zM23 19h2v1h-2zM26 19h1v1h-1zM27 19h1v1h-1zM30 19h2v1h-2zM32 19h3v1h-3zM35 19h3v1h-3zM38 19h2v1h-2zM0 20h1v1h-1zM1 20h1v1h-1zM2 20h1v1h-1zM3 20h3v1h-3zM7 20h1v1h-1zM9 20h1v1h-1zM12 20h2v1h-2zM14 20h2v1h-2zM16 20h2v1h-2zM18 20h1v1h-1zM19 20h1v1h-1zM21 20h1v1h-1zM22 20h3v1h-3zM25 20h2v1h-2zM27 20h1v1h-1zM28 20h1v1h-1zM30 20h3v1h-3zM33 20h1v1h-1zM34 20h1v1h-1zM35 20h1v1h-1zM37 20h2v1h-2zM1 21h2v1h-2zM3 21h1v1h-1zM4 21h2v1h-2zM6 21h2v1h-2zM8 21h1v1h-1zM10 21h1v1h-1zM11 21h4v1h-4zM15 21h1v1h-1zM16 21h1v1h-1zM17 21h1v1h-1zM18 21h1v1h-1zM19 21h2v1h-2zM21 21h1v1h-1zM22 21h4v1h-4zM28 21h1v1h-1zM29 21h1v1h-1zM31 21h1v1h-1zM32 21h1v1h-1zM33 21h1v1h-1zM35 21h1v1h-1zM36 21h3v1h-3zM39 21h1v1h-1zM1 22h1v1h-1zM3 22h3v1h-3zM7 22h5v1h-5zM12 22h1v1h-1zM14 22h1v1h-1zM15 22h1v1h-1zM16 22h1v1h-1zM17 22h2v1h-2zM19 22h2v1h-2zM21 22h3v1h-3zM24 22h1v1h-1zM25 22h1v1h-1zM26 22h1v1h-1zM28 22h4v1h-4zM32 22h1v1h-1zM33 22h1v1h-1zM34 22h1v1h-1zM36 22h1v1h-1zM38 22h1v1h-1zM39 22h1v1h-1zM0 23h1v1h-1zM1 23h1v1h-1zM2 23h2v1h-2zM4 23h1v1h-1zM5 23h2v1h-2zM7 23h1v1h-1zM8 23h2v1h-2zM12 23h1v1h-1zM13 23h1v1h-1zM14 23h2v1h-2zM16 23h1v1h-1zM17 23h1v1h-1zM19 23h2v1h-2zM21 23h7v1h-7zM29 23h3v1h-3zM34 23h1v1h-1zM35 23h3v1h-3zM38 23h2v1h-2zM3 24h1v1h-1zM4 24h1v1h-1zM5 24h1v1h-1zM6 24h1v1h-1zM7 24h1v1h-1zM8 24h1v1h-1zM10 24h2v1h-2zM12 24h1v1h-1zM13 24h1v1h-1zM14 24h2v1h-2zM16 24h1v1h-1zM17 24h2v1h-2zM19 24h1v1h-1zM20 24h3v1h-3zM23 24h4v1h-4zM27 24h1v1h-1zM29 24h3v1h-3zM32 24h1v1h-1zM33 24h1v1h-1zM34 24h3v1h-3zM37 24h2v1h-2zM39 24h1v1h-1zM2 25h1v1h-1zM3 25h1v1h-1zM4 25h3v1h-3zM7 25h3v1h-3zM10 25h1v1h-1zM11 25h3v1h-3zM14 25h1v1h-1zM15 25h1v1h-1zM17 25h3v1h-3zM20 25h1v1h-1zM21 25h1v1h-1zM22 25h1v1h-1zM23 25h1v1h-1zM25 25h1v1h-1zM26 25h5v1h-5zM31 25h2v1h-2zM33 25h1v1h-1zM35 25h1v1h-1zM36 25h1v1h-1zM37 25h1v1h-1zM38 25h2v1h-2zM2 26h1v1h-1zM3 26h2v1h-2zM5 26h1v1h-1zM7 26h1v1h-1zM8 26h2v1h-2zM10 26h1v1h-1zM11 26h1v1h-1zM13 26h6v1h-6zM19 26h1v1h-1zM20 26h1v1h-1zM21 26h2v1h-2zM23 26h1v1h-1zM24 26h4v1h-4zM28 26h1v1h-1zM29 26h4v1h-4zM34 26h1v1h-1zM35 26h2v1h-2zM37 26h3v1h-3zM0 27h1v1h-1zM1 27h1v1h-1zM2 27h2v1h-2zM6 27h1v1h-1zM7 27h4v1h-4zM11 27h1v1h-1zM14 27h1v1h-1zM17 27h1v1h-1zM18 27h3v1h-3zM22 27h3v1h-3zM25 27h3v1h-3zM28 27h3v1h-3zM32 27h1v1h-1zM33 27h2v1h-2zM37 27h3v1h-3zM0 28h1v1h-1zM2 28h2v1h-2zM4 28h2v1h-2zM6 28h2v1h-2zM10 28h2v1h-2zM12 28h1v1h-1zM14 28h1v1h-1zM16 28h3v1h-3zM20 28h1v1h-1zM21 28h1v1h-1zM22 28h2v1h-2zM24 28h1v1h-1zM25 28h2v1h-2zM29 28h1v1h-1zM30 28h2v1h-2zM32 28h6v1h-6zM38 28h2v1h-2zM0 29h1v1h-1zM2 29h1v1h-1zM5 29h3v1h-3zM8 29h2v1h-2zM10 29h4v1h-4zM14 29h2v1h-2zM16 29h2v1h-2zM18 29h1v1h-1zM19 29h1v1h-1zM20 29h1v1h-1zM21 29h3v1h-3zM24 29h2v1h-2zM26 29h1v1h-1zM31 29h1v1h-1zM32 29h2v1h-2zM34 29h1v1h-1zM36 29h1v1h-1zM37 29h1v1h-1zM39 29h1v1h-1zM0 30h2v1h-2zM2 30h1v1h-1zM3 30h1v1h-1zM6 30h1v1h-1zM7 30h1v1h-1zM10 30h1v1h-1zM12 30h1v1h-1zM13 30h1v1h-1zM15 30h1v1h-1zM19 30h1v1h-1zM21 30h1v1h-1zM22 30h5v1h-5zM28 30h1v1h-1zM29 30h1v1h-1zM30 30h1v1h-1zM32 30h2v1h-2zM35 30h1v1h-1zM36 30h1v1h-1zM37 30h1v1h-1zM39 30h1v1h-1zM0 31h3v1h-3zM3 31h1v1h-1zM5 31h1v1h-1zM6 31h1v1h-1zM7 31h1v1h-1zM8 31h4v1h-4zM12 31h1v1h-1zM13 31h3v1h-3zM19 31h2v1h-2zM21 31h1v1h-1zM22 31h1v1h-1zM23 31h1v1h-1zM24 31h1v1h-1zM25 31h1v1h-1zM26 31h2v1h-2zM28 31h1v1h-1zM29 31h2v1h-2zM32 31h2v1h-2zM34 31h1v1h-1zM36 31h1v1h-1zM37 31h1v1h-1zM38 31h2v1h-2zM1 32h1v1h-1zM4 32h4v1h-4zM8 32h2v1h-2zM11 32h1v1h-1zM12 32h3v1h-3zM16 32h1v1h-1zM17 32h2v1h-2zM21 32h1v1h-1zM23 32h3v1h-3zM26 32h1v1h-1zM27 32h1v1h-1zM28 32h1v1h-1zM29 32h2v1h-2zM31 32h2v1h-2zM33 32h3v1h-3zM37 32h1v1h-1zM38 32h1v1h-1zM0 33h1v1h-1zM1 33h2v1h-2zM3 33h2v1h-2zM5 33h2v1h-2zM8 33h1v1h-1zM9 33h1v1h-1zM11 33h4v1h-4zM15 33h3v1h-3zM18 33h1v1h-1zM21 33h2v1h-2zM23 33h4v1h-4zM27 33h1v1h-1zM28 33h1v1h-1zM29 33h1v1h-1zM30 33h5v1h-5zM35 33h1v1h-1zM36 33h2v1h-2zM38 33h2v1h-2zM1 34h4v1h-4zM5 34h1v1h-1zM6 34h3v1h-3zM10 34h1v1h-1zM11 34h1v1h-1zM12 34h1v1h-1zM13 34h1v1h-1zM15 34h1v1h-1zM16 34h1v1h-1zM17 34h3v1h-3zM20 34h2v1h-2zM22 34h1v1h-1zM23 34h1v1h-1zM25 34h1v1h-1zM26 34h2v1h-2zM28 34h1v1h-1zM29 34h1v1h-1zM30 34h3v1h-3zM34 34h1v1h-1zM35 34h3v1h-3zM38 34h1v1h-1zM39 34h1v1h-1zM0 35h1v1h-1zM1 35h2v1h-2zM3 35h1v1h-1zM4 35h1v1h-1zM5 35h2v1h-2zM7 35h1v1h-1zM8 35h1v1h-1zM9 35h1v1h-1zM11 35h3v1h-3zM14 35h1v1h-1zM15 35h1v1h-1zM16 35h2v1h-2zM18 35h2v1h-2zM20 35h2v1h-2zM22 35h2v1h-2zM26 35h2v1h-2zM28 35h1v1h-1zM29 35h2v1h-2zM31 35h2v1h-2zM33 35h2v1h-2zM35 35h1v1h-1zM36 35h4v1h-4zM0 36h4v1h-4zM4 36h1v1h-1zM6 36h1v1h-1zM7 36h1v1h-1zM8 36h2v1h-2zM10 36h1v1h-1zM11 36h1v1h-1zM12 36h1v1h-1zM13 36h1v1h-1zM14 36h1v1h-1zM15 36h1v1h-1zM17 36h2v1h-2zM19 36h1v1h-1zM20 36h1v1h-1zM21 36h2v1h-2zM23 36h2v1h-2zM25 36h1v1h-1zM26 36h1v1h-1zM27 36h1v1h-1zM28 36h2v1h-2zM30 36h1v1h-1zM33 36h2v1h-2zM35 36h2v1h-2zM37 36h3v1h-3zM0 37h4v1h-4zM8 37h2v1h-2zM12 37h3v1h-3zM16 37h2v1h-2zM19 37h1v1h-1zM22 37h1v1h-1zM23 37h1v1h-1zM24 37h2v1h-2zM33 37h2v1h-2zM37 37h1v1h-1zM39 37h1v1h-1zM0 38h2v1h-2zM2 38h1v1h-1zM4 38h1v1h-1zM5 38h4v1h-4zM9 38h1v1h-1zM12 38h1v1h-1zM13 38h3v1h-3zM16 38h2v1h-2zM19 38h1v1h-1zM20 38h1v1h-1zM21 38h1v1h-1zM22 38h4v1h-4zM26 38h1v1h-1zM27 38h3v1h-3zM31 38h3v1h-3zM36 38h1v1h-1zM37 38h3v1h-3zM5 39h1v1h-1zM7 39h1v1h-1zM10 39h1v1h-1zM11 39h3v1h-3zM15 39h3v1h-3zM18 39h1v1h-1zM19 39h4v1h-4zM24 39h1v1h-1zM27 39h3v1h-3zM30 39h1v1h-1zM31 39h1v1h-1zM32 39h2v1h-2zM34 39h1v1h-1zM35 39h2v1h-2zM37 39h1v1h-1zM39 39h1v1h-1z" fill="#000"/><path d="M16 0h1v1h-1zM17 0h1v1h-1zM31 1h1v1h-1zM37 1h1v1h-1zM6 2h1v1h-1zM16 2h1v1h-1zM20 2h1v1h-1zM11 3h1v1h-1zM14 3h1v1h-1zM29 3h1v1h-1zM0 4h1v1h-1zM16 6h1v1h-1zM12 9h1v1h-1zM23 9h1v1h-1zM10 10h1v1h-1zM29 10h1v1h-1zM14 11h1v1h-1zM15 12h1v1h-1zM0 13h1v1h-1zM6 13h1v1h-1zM21 13h1v1h-1zM32 14h1v1h-1zM36 14h1v1h-1zM2 15h1v1h-1zM0 16h1v1h-1zM10 17h1v1h-1zM25 19h1v1h-1zM10 20h1v1h-1zM6 22h1v1h-1zM1 25h1v1h-1zM8 28h1v1h-1zM9 28h1v1h-1zM30 29h1v1h-1zM9 30h1v1h-1zM31 30h1v1h-1zM34 30h1v1h-1zM38 30h1v1h-1zM17 31h1v1h-1zM20 32h1v1h-1zM25 35h1v1h-1zM5 36h1v1h-1zM20 37h1v1h-1zM11 38h1v1h-1zM35 38h1v1h-1zM23 39h1v1h-1z" fill="#ff2800"/><path d="M37 0h1v1h-1zM15 3h1v1h-1zM37 3h1v1h-1zM4 4h1v1h-1zM13 4h1v1h-1zM32 5h1v1h-1zM8 7h1v1h-1zM14 9h1v1h-1zM33 9h1v1h-1zM22 13h1v1h-1zM11 20h1v1h-1zM34 21h1v1h-1zM2 22h1v1h-1zM37 22h1v1h-1zM11 23h1v1h-1zM18 23h1v1h-1zM32 23h1v1h-1zM0 26h1v1h-1zM12 26h1v1h-1zM28 29h1v1h-1zM35 29h1v1h-1zM27 30h1v1h-1zM10 35h1v1h-1zM5 37h1v1h-1zM6 37h1v1h-1zM10 37h1v1h-1zM15 37h1v1h-1zM29 37h1v1h-1zM34 38h1v1h-1zM2 39h1v1h-1zM4 39h1v1h-1zM14 39h1v1h-1zM38 39h1v1h-1z" fill="#ff9a10"/></g></pattern>
<clipPath id="cp0"><rect x="39" y="2" width="322" height="319.5"/></clipPath>
<clipPath id="cp1"><rect x="373.5" y="2" width="321.5" height="319.5"/></clipPath>
<clipPath id="cp2"><rect x="709" y="2" width="321" height="319.5"/></clipPath>
<clipPath id="cp3"><rect x="39" y="363" width="322" height="321"/></clipPath>
<clipPath id="cp4"><rect x="373.5" y="363" width="321.5" height="321"/></clipPath>
<clipPath id="cp5"><rect x="709" y="363" width="321" height="321"/></clipPath>
<filter id="hb1_5" x="-40%" y="-40%" width="180%" height="180%" color-interpolation-filters="sRGB"><feGaussianBlur stdDeviation="1.5"/></filter>
<filter id="hb2_5" x="-40%" y="-40%" width="180%" height="180%" color-interpolation-filters="sRGB"><feGaussianBlur stdDeviation="2.5"/></filter>
<filter id="hb4" x="-40%" y="-40%" width="180%" height="180%" color-interpolation-filters="sRGB"><feGaussianBlur stdDeviation="4"/></filter>
<filter id="hb6" x="-40%" y="-40%" width="180%" height="180%" color-interpolation-filters="sRGB"><feGaussianBlur stdDeviation="6"/></filter>
<filter id="hb9" x="-40%" y="-40%" width="180%" height="180%" color-interpolation-filters="sRGB"><feGaussianBlur stdDeviation="9"/></filter>
<filter id="hb14" x="-40%" y="-40%" width="180%" height="180%" color-interpolation-filters="sRGB"><feGaussianBlur stdDeviation="14"/></filter>
<filter id="cm0" filterUnits="userSpaceOnUse" x="35" y="-2" width="330" height="327.5" color-interpolation-filters="sRGB"><feTurbulence type="fractalNoise" baseFrequency="0.45" numOctaves="1" seed="3"/><feColorMatrix type="matrix" values="1 0 0 0 0 1 0 0 0 0 1 0 0 0 0 0 0 0 0 1"/><feMorphology operator="dilate" radius="1" result="A"/><feTurbulence type="fractalNoise" baseFrequency="0.47000000000000003" numOctaves="1" seed="8"/><feColorMatrix type="matrix" values="0 1 0 0 0 0 1 0 0 0 0 1 0 0 0 0 0 0 0 1"/><feMorphology operator="erode" radius="1" result="B"/><feComposite in="A" in2="B" operator="arithmetic" k1="0" k2="0.5" k3="0.5" k4="0" result="n"/><feComponentTransfer in="n" result="N2"><feFuncR type="linear" slope="1" intercept="-0.3"/><feFuncG type="linear" slope="1" intercept="-0.3"/><feFuncB type="linear" slope="1" intercept="-0.3"/></feComponentTransfer><feComponentTransfer in="SourceGraphic" result="F"><feFuncR type="table" tableValues="1 1 1 0.95 0.78 0.56 0.37 0.25 0.15 0.09 0.06"/><feFuncG type="table" tableValues="1 1 1 0.95 0.78 0.56 0.37 0.25 0.15 0.09 0.06"/><feFuncB type="table" tableValues="1 1 1 0.95 0.78 0.56 0.37 0.25 0.15 0.09 0.06"/></feComponentTransfer><feComponentTransfer in="SourceGraphic" result="G"><feFuncR type="table" tableValues="0 0 0 0.05 0.22 0.44 0.63 0.75 0.85 0.91 0.94"/><feFuncG type="table" tableValues="0 0 0 0.05 0.22 0.44 0.63 0.75 0.85 0.91 0.94"/><feFuncB type="table" tableValues="0 0 0 0.05 0.22 0.44 0.63 0.75 0.85 0.91 0.94"/></feComponentTransfer><feComposite in="F" in2="N2" operator="arithmetic" k1="1" k2="0" k3="0" k4="0" result="P"/><feComposite in="SourceGraphic" in2="P" operator="arithmetic" k1="0" k2="0.5" k3="0.85" k4="0.25" result="H1"/><feComposite in="H1" in2="G" operator="arithmetic" k1="0" k2="1" k3="0.17" k4="-0.17" result="H2"/><feComponentTransfer in="H2"><feFuncR type="table" tableValues="0 0 0 0 0 0 0 0 0 0 0 0.125 0.63 0.97 1 1 1 1 1 1 1"/><feFuncG type="table" tableValues="0 0 0 0 0 0 0 0.06 0.31 0.63 0.88 1 1 0.94 0.6 0.125 0.125 0.125 0.125 0.125 0.125"/><feFuncB type="table" tableValues="0 0 0 0 0 0 0.38 0.75 1 1 0.88 0.5 0.125 0 0 0 0 0 0 0 0"/></feComponentTransfer></filter>
<filter id="cm1" filterUnits="userSpaceOnUse" x="369.5" y="-2" width="329.5" height="327.5" color-interpolation-filters="sRGB"><feTurbulence type="fractalNoise" baseFrequency="0.45" numOctaves="1" seed="7"/><feColorMatrix type="matrix" values="1 0 0 0 0 1 0 0 0 0 1 0 0 0 0 0 0 0 0 1"/><feMorphology operator="dilate" radius="1" result="A"/><feTurbulence type="fractalNoise" baseFrequency="0.47000000000000003" numOctaves="1" seed="12"/><feColorMatrix type="matrix" values="0 1 0 0 0 0 1 0 0 0 0 1 0 0 0 0 0 0 0 1"/><feMorphology operator="erode" radius="1" result="B"/><feComposite in="A" in2="B" operator="arithmetic" k1="0" k2="0.5" k3="0.5" k4="0" result="n"/><feComponentTransfer in="n" result="N2"><feFuncR type="linear" slope="1" intercept="-0.3"/><feFuncG type="linear" slope="1" intercept="-0.3"/><feFuncB type="linear" slope="1" intercept="-0.3"/></feComponentTransfer><feComponentTransfer in="SourceGraphic" result="F"><feFuncR type="table" tableValues="1 1 1 1 0.95 0.85 0.7 0.55 0.4 0.25 0.12"/><feFuncG type="table" tableValues="1 1 1 1 0.95 0.85 0.7 0.55 0.4 0.25 0.12"/><feFuncB type="table" tableValues="1 1 1 1 0.95 0.85 0.7 0.55 0.4 0.25 0.12"/></feComponentTransfer><feComponentTransfer in="SourceGraphic" result="G"><feFuncR type="table" tableValues="0 0 0 0 0.05 0.15 0.3 0.45 0.6 0.75 0.88"/><feFuncG type="table" tableValues="0 0 0 0 0.05 0.15 0.3 0.45 0.6 0.75 0.88"/><feFuncB type="table" tableValues="0 0 0 0 0.05 0.15 0.3 0.45 0.6 0.75 0.88"/></feComponentTransfer><feComposite in="F" in2="N2" operator="arithmetic" k1="1" k2="0" k3="0" k4="0" result="P"/><feComposite in="SourceGraphic" in2="P" operator="arithmetic" k1="0" k2="0.5" k3="1.15" k4="0.25" result="H1"/><feComposite in="H1" in2="G" operator="arithmetic" k1="0" k2="1" k3="0.23" k4="-0.23" result="H2"/><feComponentTransfer in="H2"><feFuncR type="table" tableValues="0 0 0 0 0 0 0 0 0 0 0 0.125 0.63 0.97 1 1 1 1 1 1 1"/><feFuncG type="table" tableValues="0 0 0 0 0 0 0 0.06 0.31 0.63 0.88 1 1 0.94 0.6 0.125 0.125 0.125 0.125 0.125 0.125"/><feFuncB type="table" tableValues="0 0 0 0 0 0 0.38 0.75 1 1 0.88 0.5 0.125 0 0 0 0 0 0 0 0"/></feComponentTransfer></filter>
<filter id="cm2" filterUnits="userSpaceOnUse" x="705" y="-2" width="329" height="327.5" color-interpolation-filters="sRGB"><feTurbulence type="fractalNoise" baseFrequency="0.45" numOctaves="1" seed="11"/><feColorMatrix type="matrix" values="1 0 0 0 0 1 0 0 0 0 1 0 0 0 0 0 0 0 0 1"/><feMorphology operator="dilate" radius="1" result="A"/><feTurbulence type="fractalNoise" baseFrequency="0.47000000000000003" numOctaves="1" seed="16"/><feColorMatrix type="matrix" values="0 1 0 0 0 0 1 0 0 0 0 1 0 0 0 0 0 0 0 1"/><feMorphology operator="erode" radius="1" result="B"/><feComposite in="A" in2="B" operator="arithmetic" k1="0" k2="0.5" k3="0.5" k4="0" result="n"/><feComponentTransfer in="n" result="N2"><feFuncR type="linear" slope="1" intercept="-0.3"/><feFuncG type="linear" slope="1" intercept="-0.3"/><feFuncB type="linear" slope="1" intercept="-0.3"/></feComponentTransfer><feComponentTransfer in="SourceGraphic" result="F"><feFuncR type="table" tableValues="1 1 1 0.95 0.78 0.56 0.37 0.25 0.15 0.09 0.06"/><feFuncG type="table" tableValues="1 1 1 0.95 0.78 0.56 0.37 0.25 0.15 0.09 0.06"/><feFuncB type="table" tableValues="1 1 1 0.95 0.78 0.56 0.37 0.25 0.15 0.09 0.06"/></feComponentTransfer><feComponentTransfer in="SourceGraphic" result="G"><feFuncR type="table" tableValues="0 0 0 0.05 0.22 0.44 0.63 0.75 0.85 0.91 0.94"/><feFuncG type="table" tableValues="0 0 0 0.05 0.22 0.44 0.63 0.75 0.85 0.91 0.94"/><feFuncB type="table" tableValues="0 0 0 0.05 0.22 0.44 0.63 0.75 0.85 0.91 0.94"/></feComponentTransfer><feComposite in="F" in2="N2" operator="arithmetic" k1="1" k2="0" k3="0" k4="0" result="P"/><feComposite in="SourceGraphic" in2="P" operator="arithmetic" k1="0" k2="0.5" k3="1.1" k4="0.25" result="H1"/><feComposite in="H1" in2="G" operator="arithmetic" k1="0" k2="1" k3="0.22" k4="-0.22" result="H2"/><feComponentTransfer in="H2"><feFuncR type="table" tableValues="0 0 0 0 0 0 0 0 0 0 0 0.125 0.63 0.97 1 1 1 1 1 1 1"/><feFuncG type="table" tableValues="0 0 0 0 0 0 0 0.06 0.31 0.63 0.88 1 1 0.94 0.6 0.125 0.125 0.125 0.125 0.125 0.125"/><feFuncB type="table" tableValues="0 0 0 0 0 0 0.38 0.75 1 1 0.88 0.5 0.125 0 0 0 0 0 0 0 0"/></feComponentTransfer></filter>
<filter id="cm3" filterUnits="userSpaceOnUse" x="35" y="359" width="330" height="329" color-interpolation-filters="sRGB"><feTurbulence type="fractalNoise" baseFrequency="0.45" numOctaves="1" seed="15"/><feColorMatrix type="matrix" values="1 0 0 0 0 1 0 0 0 0 1 0 0 0 0 0 0 0 0 1"/><feMorphology operator="dilate" radius="1" result="A"/><feTurbulence type="fractalNoise" baseFrequency="0.47000000000000003" numOctaves="1" seed="20"/><feColorMatrix type="matrix" values="0 1 0 0 0 0 1 0 0 0 0 1 0 0 0 0 0 0 0 1"/><feMorphology operator="erode" radius="1" result="B"/><feComposite in="A" in2="B" operator="arithmetic" k1="0" k2="0.5" k3="0.5" k4="0" result="n"/><feComponentTransfer in="n" result="N2"><feFuncR type="linear" slope="1" intercept="-0.3"/><feFuncG type="linear" slope="1" intercept="-0.3"/><feFuncB type="linear" slope="1" intercept="-0.3"/></feComponentTransfer><feComponentTransfer in="SourceGraphic" result="F"><feFuncR type="table" tableValues="1 1 1 0.95 0.78 0.56 0.37 0.25 0.15 0.09 0.06"/><feFuncG type="table" tableValues="1 1 1 0.95 0.78 0.56 0.37 0.25 0.15 0.09 0.06"/><feFuncB type="table" tableValues="1 1 1 0.95 0.78 0.56 0.37 0.25 0.15 0.09 0.06"/></feComponentTransfer><feComponentTransfer in="SourceGraphic" result="G"><feFuncR type="table" tableValues="0 0 0 0.05 0.22 0.44 0.63 0.75 0.85 0.91 0.94"/><feFuncG type="table" tableValues="0 0 0 0.05 0.22 0.44 0.63 0.75 0.85 0.91 0.94"/><feFuncB type="table" tableValues="0 0 0 0.05 0.22 0.44 0.63 0.75 0.85 0.91 0.94"/></feComponentTransfer><feComposite in="F" in2="N2" operator="arithmetic" k1="1" k2="0" k3="0" k4="0" result="P"/><feComposite in="SourceGraphic" in2="P" operator="arithmetic" k1="0" k2="0.5" k3="1.5" k4="0.25" result="H1"/><feComposite in="H1" in2="G" operator="arithmetic" k1="0" k2="1" k3="0.3" k4="-0.3" result="H2"/><feComponentTransfer in="H2"><feFuncR type="table" tableValues="0 0 0 0 0 0 0 0 0 0 0 0.125 0.63 0.97 1 1 1 1 1 1 1"/><feFuncG type="table" tableValues="0 0 0 0 0 0 0 0.06 0.31 0.63 0.88 1 1 0.94 0.6 0.125 0.125 0.125 0.125 0.125 0.125"/><feFuncB type="table" tableValues="0 0 0 0 0 0 0.38 0.75 1 1 0.88 0.5 0.125 0 0 0 0 0 0 0 0"/></feComponentTransfer></filter>
<filter id="cm4" filterUnits="userSpaceOnUse" x="369.5" y="359" width="329.5" height="329" color-interpolation-filters="sRGB"><feTurbulence type="fractalNoise" baseFrequency="0.45" numOctaves="1" seed="19"/><feColorMatrix type="matrix" values="1 0 0 0 0 1 0 0 0 0 1 0 0 0 0 0 0 0 0 1"/><feMorphology operator="dilate" radius="1" result="A"/><feTurbulence type="fractalNoise" baseFrequency="0.47000000000000003" numOctaves="1" seed="24"/><feColorMatrix type="matrix" values="0 1 0 0 0 0 1 0 0 0 0 1 0 0 0 0 0 0 0 1"/><feMorphology operator="erode" radius="1" result="B"/><feComposite in="A" in2="B" operator="arithmetic" k1="0" k2="0.5" k3="0.5" k4="0" result="n"/><feComponentTransfer in="n" result="N2"><feFuncR type="linear" slope="1" intercept="-0.3"/><feFuncG type="linear" slope="1" intercept="-0.3"/><feFuncB type="linear" slope="1" intercept="-0.3"/></feComponentTransfer><feComponentTransfer in="SourceGraphic" result="F"><feFuncR type="table" tableValues="1 1 1 0.95 0.78 0.56 0.37 0.25 0.15 0.09 0.06"/><feFuncG type="table" tableValues="1 1 1 0.95 0.78 0.56 0.37 0.25 0.15 0.09 0.06"/><feFuncB type="table" tableValues="1 1 1 0.95 0.78 0.56 0.37 0.25 0.15 0.09 0.06"/></feComponentTransfer><feComponentTransfer in="SourceGraphic" result="G"><feFuncR type="table" tableValues="0 0 0 0.05 0.22 0.44 0.63 0.75 0.85 0.91 0.94"/><feFuncG type="table" tableValues="0 0 0 0.05 0.22 0.44 0.63 0.75 0.85 0.91 0.94"/><feFuncB type="table" tableValues="0 0 0 0.05 0.22 0.44 0.63 0.75 0.85 0.91 0.94"/></feComponentTransfer><feComposite in="F" in2="N2" operator="arithmetic" k1="1" k2="0" k3="0" k4="0" result="P"/><feComposite in="SourceGraphic" in2="P" operator="arithmetic" k1="0" k2="0.5" k3="1.8" k4="0.25" result="H1"/><feComposite in="H1" in2="G" operator="arithmetic" k1="0" k2="1" k3="0.36" k4="-0.36" result="H2"/><feComponentTransfer in="H2"><feFuncR type="table" tableValues="0 0 0 0 0 0 0 0 0 0 0 0.125 0.63 0.97 1 1 1 1 1 1 1"/><feFuncG type="table" tableValues="0 0 0 0 0 0 0 0.06 0.31 0.63 0.88 1 1 0.94 0.6 0.125 0.125 0.125 0.125 0.125 0.125"/><feFuncB type="table" tableValues="0 0 0 0 0 0 0.38 0.75 1 1 0.88 0.5 0.125 0 0 0 0 0 0 0 0"/></feComponentTransfer></filter>
<filter id="cm5" filterUnits="userSpaceOnUse" x="705" y="359" width="329" height="329" color-interpolation-filters="sRGB"><feTurbulence type="fractalNoise" baseFrequency="0.45" numOctaves="1" seed="23"/><feColorMatrix type="matrix" values="1 0 0 0 0 1 0 0 0 0 1 0 0 0 0 0 0 0 0 1"/><feMorphology operator="dilate" radius="1" result="A"/><feTurbulence type="fractalNoise" baseFrequency="0.47000000000000003" numOctaves="1" seed="28"/><feColorMatrix type="matrix" values="0 1 0 0 0 0 1 0 0 0 0 1 0 0 0 0 0 0 0 1"/><feMorphology operator="erode" radius="1" result="B"/><feComposite in="A" in2="B" operator="arithmetic" k1="0" k2="0.5" k3="0.5" k4="0" result="n"/><feComponentTransfer in="n" result="N2"><feFuncR type="linear" slope="1" intercept="-0.3"/><feFuncG type="linear" slope="1" intercept="-0.3"/><feFuncB type="linear" slope="1" intercept="-0.3"/></feComponentTransfer><feComponentTransfer in="SourceGraphic" result="F"><feFuncR type="table" tableValues="1 1 1 0.95 0.78 0.56 0.37 0.25 0.15 0.09 0.06"/><feFuncG type="table" tableValues="1 1 1 0.95 0.78 0.56 0.37 0.25 0.15 0.09 0.06"/><feFuncB type="table" tableValues="1 1 1 0.95 0.78 0.56 0.37 0.25 0.15 0.09 0.06"/></feComponentTransfer><feComponentTransfer in="SourceGraphic" result="G"><feFuncR type="table" tableValues="0 0 0 0.05 0.22 0.44 0.63 0.75 0.85 0.91 0.94"/><feFuncG type="table" tableValues="0 0 0 0.05 0.22 0.44 0.63 0.75 0.85 0.91 0.94"/><feFuncB type="table" tableValues="0 0 0 0.05 0.22 0.44 0.63 0.75 0.85 0.91 0.94"/></feComponentTransfer><feComposite in="F" in2="N2" operator="arithmetic" k1="1" k2="0" k3="0" k4="0" result="P"/><feComposite in="SourceGraphic" in2="P" operator="arithmetic" k1="0" k2="0.5" k3="1.6" k4="0.25" result="H1"/><feComposite in="H1" in2="G" operator="arithmetic" k1="0" k2="1" k3="0.32" k4="-0.32" result="H2"/><feComponentTransfer in="H2"><feFuncR type="table" tableValues="0 0 0 0 0 0 0 0 0 0 0 0.125 0.63 0.97 1 1 1 1 1 1 1"/><feFuncG type="table" tableValues="0 0 0 0 0 0 0 0.06 0.31 0.63 0.88 1 1 0.94 0.6 0.125 0.125 0.125 0.125 0.125 0.125"/><feFuncB type="table" tableValues="0 0 0 0 0 0 0.38 0.75 1 1 0.88 0.5 0.125 0 0 0 0 0 0 0 0"/></feComponentTransfer></filter>
<linearGradient id="cbar" x1="0" y1="0" x2="0" y2="1">
<stop offset="0" stop-color="#e01000"/>
<stop offset="0.03" stop-color="#ff2800"/>
<stop offset="0.09" stop-color="#ff9000"/>
<stop offset="0.17" stop-color="#f0e800"/>
<stop offset="0.25" stop-color="#70f020"/>
<stop offset="0.33" stop-color="#10e080"/>
<stop offset="0.42" stop-color="#00b0e0"/>
<stop offset="0.52" stop-color="#0050e0"/>
<stop offset="0.62" stop-color="#0018a0"/>
<stop offset="0.75" stop-color="#000030"/>
<stop offset="0.85" stop-color="#000"/>
<stop offset="1" stop-color="#000"/>
</linearGradient>
</defs>
<g clip-path="url(#cp0)">
<g filter="url(#cm0)">
<rect x="33" y="-4" width="334" height="331.5" fill="#e6e6e6" /><g filter="url(#hb2_5)"><path d="M91.0 190.0 L194.0 326.0" stroke="#ffffff" stroke-width="12" fill="none" stroke-linecap="round" stroke-linejoin="round" /><path d="M208.0 6.0 L125.0 76.0" stroke="#ffffff" stroke-width="10" fill="none" stroke-linecap="round" stroke-linejoin="round" opacity=".8"/><path d="M125.0 76.0 L80.0 120.0" stroke="#f2f2f2" stroke-width="8" fill="none" stroke-linecap="round" stroke-linejoin="round" opacity=".6"/></g><g filter="url(#hb2_5)"><polygon points="226.0,22.0 268.0,27.0 365.0,27.0 365.0,330.0 196.0,330.0 97.0,183.0 98.0,127.0" fill="#cccccc" /></g><g filter="url(#hb4)"><polygon points="232.0,30.0 268.0,33.0 365.0,33.0 365.0,330.0 206.0,330.0 104.0,181.0 105.0,130.0" fill="#b2b2b2" /><polygon points="240.0,40.0 365.0,40.0 365.0,330.0 220.0,330.0 112.0,180.0 113.0,134.0" fill="#a2a2a2" /></g><g filter="url(#hb9)"><polygon points="262.0,75.0 365.0,62.0 365.0,250.0 300.0,235.0 225.0,250.0 175.0,215.0 165.0,180.0 170.0,145.0" fill="#919191" /><polygon points="280.0,85.0 365.0,70.0 365.0,250.0 320.0,232.0 245.0,212.0 200.0,195.0 185.0,170.0 195.0,140.0" fill="#878787" /></g><g filter="url(#hb9)"><polygon points="300.0,60.0 365.0,40.0 365.0,272.0 334.0,262.0 306.0,228.0 261.0,232.0 225.0,182.0 223.0,141.0 263.0,90.0 288.0,69.0" fill="#737373" /><polygon points="308.0,78.0 365.0,62.0 365.0,255.0 334.0,245.0 306.0,212.0 266.0,214.0 240.0,178.0 238.0,148.0 270.0,105.0 292.0,85.0" fill="#676767" /></g><g filter="url(#hb6)"><ellipse cx="352" cy="165" rx="14" ry="45" fill="#545454" /><ellipse cx="292" cy="97" rx="25" ry="11" fill="#5c5c5c" transform="rotate(-35 292 97)"/><ellipse cx="252" cy="150" rx="22" ry="14" fill="#5e5e5e" /><path d="M225.0 330.0 L270.0 285.0 L315.0 240.0" stroke="#ababab" stroke-width="36" fill="none" stroke-linecap="round" stroke-linejoin="round" opacity=".85"/><polygon points="335.0,272.0 365.0,268.0 365.0,330.0 338.0,330.0" fill="#787878" opacity=".85"/><ellipse cx="200" cy="217" rx="20" ry="16" fill="#858585" opacity=".7"/></g><rect x="358.5" y="26" width="3" height="300" fill="#b8b8b8" />
</g>
<polygon points="39.0,2.0 201.6,2.0 72.0,120.0 74.5,190.0 177.0,322.0 39.0,322.0" fill="url(#nzA)" /><polygon points="39.0,92.0 39.0,150.0 73.0,150.0 72.0,120.0 102.8,92.0" fill="url(#nzE)" /><polygon points="39.0,150.0 73.0,150.0 74.5,190.0 177.0,322.0 39.0,322.0" fill="url(#nzB)" /><polygon points="62.0,170.0 73.5,170.0 74.5,190.0 177.0,322.0 157.0,322.0 62.0,200.0" fill="url(#nzD)" />
</g>
<g clip-path="url(#cp1)">
<g filter="url(#cm1)">
<rect x="367.5" y="-4" width="333.5" height="331.5" fill="#666666" /><g filter="url(#hb9)"><polygon points="370.0,-5.0 480.0,-5.0 480.0,34.0 370.0,40.0" fill="#878787" /><polygon points="478.0,-5.0 700.0,-5.0 700.0,34.0 478.0,30.0" fill="#a1a1a1" /><polygon points="618.0,30.0 700.0,30.0 700.0,165.0 640.0,170.0 600.0,148.0 592.0,97.0" fill="#949494" /><path d="M575.0 300.0 L624.0 215.0 L660.0 160.0" stroke="#808080" stroke-width="30" fill="none" stroke-linecap="round" stroke-linejoin="round" /><polygon points="370.0,225.0 414.0,244.0 478.0,289.0 546.0,330.0 370.0,330.0" fill="#999999" /><polygon points="546.0,295.0 700.0,288.0 700.0,330.0 546.0,330.0" fill="#9e9e9e" /></g><g filter="url(#hb6)"><polygon points="370.0,266.0 430.0,287.0 494.0,330.0 370.0,330.0" fill="#cccccc" /><ellipse cx="430" cy="318" rx="35" ry="9" fill="#f7f7f7" /><ellipse cx="608" cy="306" rx="16" ry="8" fill="#d9d9d9" /><ellipse cx="650" cy="320" rx="14" ry="6" fill="#f2f2f2" /><ellipse cx="533" cy="12" rx="10" ry="7" fill="#d9d9d9" /><ellipse cx="625" cy="9" rx="10" ry="6" fill="#e0e0e0" /><ellipse cx="620" cy="60" rx="18" ry="14" fill="#adadad" /><ellipse cx="650" cy="120" rx="14" ry="20" fill="#a8a8a8" /></g><g filter="url(#hb9)"><polygon points="370.0,49.0 446.0,39.0 546.0,52.0 592.0,68.0 572.0,97.0 501.0,107.0 430.0,130.0 370.0,107.0" fill="#333333" /><polygon points="370.0,136.0 404.0,130.0 446.0,181.0 488.0,227.0 533.0,278.0 504.0,291.0 462.0,259.0 414.0,227.0 370.0,194.0" fill="#333333" /><polygon points="472.0,113.0 504.0,113.0 514.0,194.0 517.0,253.0 488.0,246.0 475.0,194.0" fill="#2e2e2e" /><ellipse cx="676" cy="94" rx="15" ry="12" fill="#383838" /><ellipse cx="673" cy="194" rx="22" ry="18" fill="#333333" /><ellipse cx="665" cy="269" rx="22" ry="25" fill="#333333" /><ellipse cx="560" cy="180" rx="25" ry="20" fill="#4c4c4c" /></g><g filter="url(#hb2_5)"><ellipse cx="637" cy="42" rx="13" ry="11" fill="#ffffff" /><ellipse cx="689" cy="142" rx="5" ry="13" fill="#ebebeb" /><ellipse cx="413.6" cy="191" rx="8" ry="9" fill="#808080" /></g><rect x="692.5" y="2" width="3" height="320" fill="#ffffff" />
</g>

</g>
<g clip-path="url(#cp2)">
<g filter="url(#cm2)">
<rect x="703" y="-4" width="333" height="331.5" fill="#9c9c9c" /><g filter="url(#hb14)"><polygon points="760.0,20.0 900.0,25.0 960.0,80.0 990.0,150.0 880.0,150.0 800.0,100.0 760.0,60.0" fill="#a8a8a8" /><polygon points="700.0,100.0 800.0,95.0 800.0,170.0 760.0,185.0 700.0,190.0" fill="#808080" /><polygon points="700.0,120.0 790.0,125.0 800.0,180.0 770.0,250.0 700.0,262.0" fill="#626262" /><polygon points="881.0,158.0 1040.0,165.0 1040.0,330.0 901.0,330.0 868.0,259.0 850.0,208.0" fill="#555555" /><polygon points="700.0,250.0 790.0,262.0 800.0,330.0 700.0,330.0" fill="#787878" /><polygon points="795.0,272.0 895.0,272.0 905.0,330.0 790.0,330.0" fill="#707070" /></g><g filter="url(#hb9)"><ellipse cx="723" cy="233" rx="20" ry="16" fill="#5e5e5e" /><path d="M839.0 165.0 L812.0 225.0 L826.0 280.0 L858.0 325.0" stroke="#999999" stroke-width="36" fill="none" stroke-linecap="round" stroke-linejoin="round" /><polygon points="700.0,272.0 775.0,280.0 785.0,330.0 700.0,330.0" fill="#8f8f8f" /><polygon points="920.0,185.0 1040.0,185.0 1040.0,320.0 940.0,320.0 890.0,250.0" fill="#4a4a4a" /><ellipse cx="1020" cy="300" rx="14" ry="30" fill="#737373" /></g><g filter="url(#hb6)"><polygon points="700.0,-5.0 900.0,-5.0 900.0,16.0 700.0,18.0" fill="#e6e6e6" /><path d="M700.0 24.0 L890.0 24.0" stroke="#cccccc" stroke-width="8" fill="none" stroke-linecap="round" stroke-linejoin="round" /><path d="M885.0 36.0 L950.0 72.0 L982.0 118.0 L1004.0 170.0" stroke="#c2c2c2" stroke-width="28" fill="none" stroke-linecap="round" stroke-linejoin="round" /><path d="M895.0 14.0 L960.0 48.0 L1002.0 100.0 L1024.0 165.0" stroke="#e6e6e6" stroke-width="22" fill="none" stroke-linecap="round" stroke-linejoin="round" /></g><g filter="url(#hb4)"><path d="M900.0 0.0 L975.0 34.0 L1001.0 63.0 L1014.0 105.0 L1025.0 146.0 L1029.0 190.0" stroke="#ebebeb" stroke-width="14" fill="none" stroke-linecap="round" stroke-linejoin="round" /><path d="M888.0 6.0 L927.0 21.0 L959.0 43.0 L982.0 66.0 L996.0 86.0" stroke="#ffffff" stroke-width="19" fill="none" stroke-linecap="round" stroke-linejoin="round" /><path d="M965.0 50.0 L985.0 70.0 L996.0 88.0" stroke="#ffffff" stroke-width="24" fill="none" stroke-linecap="round" stroke-linejoin="round" /></g><g filter="url(#hb2_5)"><ellipse cx="834.5" cy="139" rx="22" ry="22" fill="#d1d1d1" /><ellipse cx="834.5" cy="139" rx="16.5" ry="17.5" fill="#ffffff" /></g><g filter="url(#hb1_5)"><ellipse cx="834.5" cy="139" rx="14" ry="15" fill="#ffffff" /></g><rect x="1027.5" y="2" width="3" height="320" fill="#ffffff" />
</g>
<polygon points="923.0,2.0 975.0,36.0 1001.0,65.0 1014.0,107.0 1024.0,146.0 1027.5,194.0 1027.5,2.0" fill="url(#nzB)" />
</g>
<g clip-path="url(#cp3)">
<g filter="url(#cm3)">
<rect x="33" y="357" width="334" height="333" fill="#dfdfdf" /><g filter="url(#hb9)"><polygon points="290.0,363.0 365.0,363.0 365.0,392.0 290.0,385.0" fill="#ebebeb" /><path d="M230.0 470.0 L225.0 540.0 L235.0 610.0" stroke="#e4e4e4" stroke-width="20" fill="none" stroke-linecap="round" stroke-linejoin="round" /></g><g filter="url(#hb4)"><path d="M265.0 488.0 L264.0 600.0" stroke="#c4c4c4" stroke-width="19" fill="none" stroke-linecap="round" stroke-linejoin="round" /><path d="M266.0 488.0 L290.0 462.0 L318.0 437.0" stroke="#cfcfcf" stroke-width="14" fill="none" stroke-linecap="round" stroke-linejoin="round" /><path d="M264.0 600.0 L280.0 615.0" stroke="#cccccc" stroke-width="13" fill="none" stroke-linecap="round" stroke-linejoin="round" /><path d="M200.0 430.0 L190.0 465.0" stroke="#d9d9d9" stroke-width="16" fill="none" stroke-linecap="round" stroke-linejoin="round" /><path d="M193.0 560.0 L200.0 600.0" stroke="#d9d9d9" stroke-width="16" fill="none" stroke-linecap="round" stroke-linejoin="round" /><path d="M110.0 585.0 L192.0 690.0" stroke="#f7f7f7" stroke-width="14" fill="none" stroke-linecap="round" stroke-linejoin="round" /><path d="M125.0 580.0 L205.0 690.0" stroke="#ebebeb" stroke-width="14" fill="none" stroke-linecap="round" stroke-linejoin="round" /></g>
</g>
<polygon points="39.0,363.0 206.5,363.0 75.3,473.0 73.7,530.0 184.0,684.0 39.0,684.0" fill="url(#nzA)" /><polygon points="39.0,450.0 39.0,500.0 74.5,500.0 75.3,473.0 102.7,450.0" fill="url(#nzE)" /><polygon points="39.0,500.0 74.5,500.0 73.7,530.0 184.0,684.0 39.0,684.0" fill="url(#nzB)" /><path d="M204 365 L77 471" stroke="#000" stroke-width="3" stroke-dasharray="4 3 2 4 6 3" fill="none"/>
</g>
<g clip-path="url(#cp4)">
<g filter="url(#cm4)">
<rect x="367.5" y="357" width="333.5" height="333" fill="#e7e7e7" /><g filter="url(#hb14)"><ellipse cx="560" cy="520" rx="70" ry="80" fill="#e2e2e2" /></g><g filter="url(#hb6)"><path d="M370.0 366.0 L700.0 366.0" stroke="#f6f6f6" stroke-width="15" fill="none" stroke-linecap="round" stroke-linejoin="round" /><path d="M540.0 376.0 L700.0 396.0" stroke="#f6f6f6" stroke-width="30" fill="none" stroke-linecap="round" stroke-linejoin="round" /><polygon points="370.0,610.0 395.0,620.0 410.0,690.0 370.0,690.0" fill="#f2f2f2" /><path d="M420.0 600.0 L470.0 690.0" stroke="#ebebeb" stroke-width="14" fill="none" stroke-linecap="round" stroke-linejoin="round" /><path d="M480.0 560.0 L560.0 690.0" stroke="#ebebeb" stroke-width="10" fill="none" stroke-linecap="round" stroke-linejoin="round" /><path d="M370.0 682.0 L700.0 682.0" stroke="#f2f2f2" stroke-width="10" fill="none" stroke-linecap="round" stroke-linejoin="round" /><path d="M370.0 380.0 L372.0 560.0" stroke="#dbdbdb" stroke-width="20" fill="none" stroke-linecap="round" stroke-linejoin="round" /></g><g filter="url(#hb2_5)"><ellipse cx="416.8" cy="555.8" rx="7" ry="13" fill="#ffffff" transform="rotate(-20 416.8 555.8)"/><path d="M637.0 500.0 L633.0 540.0 L638.0 580.0" stroke="#f9f9f9" stroke-width="10" fill="none" stroke-linecap="round" stroke-linejoin="round" /><path d="M690.0 500.0 L688.0 560.0" stroke="#f2f2f2" stroke-width="6" fill="none" stroke-linecap="round" stroke-linejoin="round" /></g>
</g>

</g>
<g clip-path="url(#cp5)">
<g filter="url(#cm5)">
<rect x="703" y="357" width="333" height="333" fill="#e2e2e2" /><g filter="url(#hb9)"><polygon points="705.0,480.0 800.0,490.0 830.0,560.0 860.0,640.0 705.0,640.0" fill="#d9d9d9" /></g><g filter="url(#hb4)"><path d="M830.0 368.0 L935.0 372.0" stroke="#f2f2f2" stroke-width="12" fill="none" stroke-linecap="round" stroke-linejoin="round" /><path d="M705.0 374.0 L850.0 380.0" stroke="#d9d9d9" stroke-width="16" fill="none" stroke-linecap="round" stroke-linejoin="round" /><path d="M705.0 386.0 L860.0 394.0 L950.0 401.0" stroke="#d9d9d9" stroke-width="17" fill="none" stroke-linecap="round" stroke-linejoin="round" /><path d="M705.0 412.0 L860.0 426.0 L985.0 440.0" stroke="#f7f7f7" stroke-width="28" fill="none" stroke-linecap="round" stroke-linejoin="round" /><path d="M705.0 441.0 L860.0 454.0 L985.0 463.0" stroke="#dbdbdb" stroke-width="11" fill="none" stroke-linecap="round" stroke-linejoin="round" /><path d="M705.0 460.0 L860.0 472.0 L985.0 482.0" stroke="#f7f7f7" stroke-width="11" fill="none" stroke-linecap="round" stroke-linejoin="round" /><path d="M925.0 370.0 L955.0 393.0" stroke="#f2f2f2" stroke-width="18" fill="none" stroke-linecap="round" stroke-linejoin="round" /><path d="M958.0 396.0 L982.0 416.0 L998.0 445.0 L1008.0 478.0 L1022.0 508.0" stroke="#ffffff" stroke-width="26" fill="none" stroke-linecap="round" stroke-linejoin="round" /><path d="M705.0 625.0 L790.0 660.0 L880.0 690.0" stroke="#f2f2f2" stroke-width="16" fill="none" stroke-linecap="round" stroke-linejoin="round" /><path d="M705.0 680.0 L1035.0 680.0" stroke="#f2f2f2" stroke-width="14" fill="none" stroke-linecap="round" stroke-linejoin="round" /></g><g filter="url(#hb4)"><polygon points="820.0,550.0 875.0,512.0 975.0,505.0 1035.0,528.0 1035.0,640.0 975.0,662.0 900.0,652.0 852.0,602.0" fill="#fcfcfc" /><ellipse cx="834" cy="501" rx="36" ry="19" fill="#d0d0d0" /><path d="M808.0 548.0 L823.0 588.0" stroke="#cdcdcd" stroke-width="11" fill="none" stroke-linecap="round" stroke-linejoin="round" /></g><g filter="url(#hb2_5)"><ellipse cx="836" cy="500.5" rx="19" ry="11" fill="#bfbfbf" /></g>
</g>
<polygon points="932.0,363.0 963.0,386.0 990.0,406.0 1005.7,432.0 1014.0,466.0 1024.6,495.6 1030.0,500.0 1030.0,363.0" fill="url(#nzC)" /><rect x="833" y="497" width="3" height="3" fill="#111"/>
</g>
<g stroke="#c4c4c4" stroke-width="1" fill="none">
<path d="M1.5 1.5 V353.7 M1.5 1.5 H361 M369.5 1.5 H695 M704.5 1.5 H1030 M361.5 351.5 h1 M695.5 351.5 h1"/>
<path d="M1.5 721.5 V362.3 H361 M371 362.3 H695 M706 362.3 H1030 M1.5 721.5 H361 M371 721.5 H695 M706 721.5 H1030"/>
</g>
<rect x="4.6" y="13" width="3.8" height="288" fill="url(#cbar)"/>
<circle cx="6.5" cy="12" r="2" fill="#fff" stroke="#666" stroke-width=".8"/><circle cx="6.5" cy="302" r="2" fill="#fff" stroke="#666" stroke-width=".8"/>
<g font-family="'Liberation Sans',Arial,sans-serif" font-size="14.6" fill="#111" text-anchor="middle">
<text x="22.5" y="16.5">700</text>
<text x="22.5" y="78.5">100</text>
<text x="22.5" y="150.5">10</text>
<text x="22.5" y="225.0">1</text>
<text x="22.5" y="303.0">0</text>
</g>
<rect x="4.6" y="373.5" width="3.8" height="288" fill="url(#cbar)"/>
<circle cx="6.5" cy="372.5" r="2" fill="#fff" stroke="#666" stroke-width=".8"/><circle cx="6.5" cy="662.5" r="2" fill="#fff" stroke="#666" stroke-width=".8"/>
<g font-family="'Liberation Sans',Arial,sans-serif" font-size="14.6" fill="#111" text-anchor="middle">
<text x="22.5" y="377.0">700</text>
<text x="22.5" y="441.0">100</text>
<text x="22.5" y="513.5">10</text>
<text x="22.5" y="587.0">1</text>
<text x="22.5" y="663.8">0</text>
</g>
<rect x="42.3" y="306.3" width="23.4" height="14" fill="#a4a4a4" stroke="#2428c8" stroke-width="1.4"/>
<text x="53.3" y="314.3" font-family="'Liberation Sans',Arial,sans-serif" font-size="7" fill="#2030c0" text-anchor="middle">10μm</text>
<rect x="376.3" y="306.3" width="23.4" height="14" fill="#a4a4a4" stroke="#2428c8" stroke-width="1.4"/>
<text x="387.3" y="314.3" font-family="'Liberation Sans',Arial,sans-serif" font-size="7" fill="#2030c0" text-anchor="middle">10μm</text>
<rect x="711.3" y="306.3" width="23.4" height="14" fill="#a4a4a4" stroke="#2428c8" stroke-width="1.4"/>
<text x="722.3" y="314.3" font-family="'Liberation Sans',Arial,sans-serif" font-size="7" fill="#2030c0" text-anchor="middle">10μm</text>
<rect x="42.3" y="668.3" width="23.4" height="14" fill="#a4a4a4" stroke="#2428c8" stroke-width="1.4"/>
<text x="53.3" y="676.3" font-family="'Liberation Sans',Arial,sans-serif" font-size="7" fill="#2030c0" text-anchor="middle">10μm</text>
<rect x="376.3" y="668.3" width="23.4" height="14" fill="#a4a4a4" stroke="#2428c8" stroke-width="1.4"/>
<text x="387.3" y="676.3" font-family="'Liberation Sans',Arial,sans-serif" font-size="7" fill="#2030c0" text-anchor="middle">10μm</text>
<rect x="711.3" y="668.3" width="23.4" height="14" fill="#a4a4a4" stroke="#2428c8" stroke-width="1.4"/>
<text x="722.3" y="676.3" font-family="'Liberation Sans',Arial,sans-serif" font-size="7" fill="#2030c0" text-anchor="middle">10μm</text>
<text x="460.3" y="341" font-family="'Liberation Sans',Arial,sans-serif" font-size="20" fill="#000" textLength="8" lengthAdjust="spacingAndGlyphs">7</text>
<text x="472.2" y="358.2" font-family="'Liberation Sans',Arial,sans-serif" font-size="39.5" fill="#000" textLength="45.5" lengthAdjust="spacingAndGlyphs">Li/</text>
<text x="520" y="341" font-family="'Liberation Sans',Arial,sans-serif" font-size="20" fill="#000" textLength="23.5" lengthAdjust="spacingAndGlyphs">96</text>
<text x="546" y="358.2" font-family="'Liberation Sans',Arial,sans-serif" font-size="39.5" fill="#000" textLength="40.5" lengthAdjust="spacingAndGlyphs">Zr</text>
<text x="457.2" y="708" font-family="'Liberation Sans',Arial,sans-serif" font-size="20.5" fill="#000" textLength="24" lengthAdjust="spacingAndGlyphs">89</text>
<text x="483.3" y="725.8" font-family="'Liberation Sans',Arial,sans-serif" font-size="41" fill="#000" textLength="41" lengthAdjust="spacingAndGlyphs">Y/</text>
<text x="525.2" y="708" font-family="'Liberation Sans',Arial,sans-serif" font-size="20.5" fill="#000" textLength="23" lengthAdjust="spacingAndGlyphs">96</text>
<text x="550.2" y="725.8" font-family="'Liberation Sans',Arial,sans-serif" font-size="41" fill="#000" textLength="39.3" lengthAdjust="spacingAndGlyphs">Zr</text>
<rect x="982.6" y="2" width="45.5" height="43" fill="#fff"/>
<text x="988" y="41" font-family="'Liberation Sans',Arial,sans-serif" font-size="63" fill="#000">a</text>
<text x="488" y="129" font-family="'Liberation Sans',Arial,sans-serif" font-size="21" font-weight="bold" fill="#fff">crack</text>
<path d="M556 121.5 L610 102" stroke="#fff" stroke-width="3.6" fill="none"/><path d="M619.5 97 L604 93.5 L609 108.5 Z" fill="#fff"/>
<defs>
<clipPath id="clc"><path d="M141.7 745.7 L400 737 L700 735.5 L906.7 735.5 C935 750 970 770 986.7 791.7 C1000 815 1015 850 1025 881.7 C1033 910 1040 945 1043.3 965 L1046.7 1053.5 L700 1055 L191.7 1055 L62.7 911.7 L63.3 821.7 Z"/></clipPath>
<filter id="b3" x="-10%" y="-10%" width="120%" height="120%"><feGaussianBlur stdDeviation="3"/></filter>
<filter id="b5" x="-10%" y="-10%" width="120%" height="120%"><feGaussianBlur stdDeviation="5"/></filter>
<filter id="b9" x="-20%" y="-20%" width="140%" height="140%"><feGaussianBlur stdDeviation="9"/></filter>
<filter id="clgrain" x="0" y="0" width="100%" height="100%"><feTurbulence type="fractalNoise" baseFrequency="0.35" numOctaves="2" seed="7" result="n"/><feColorMatrix in="n" type="matrix" values="0 0 0 0 0.5  0 0 0 0 0.5  0 0 0 0 0.5  0.9 0.9 0 0 -0.62"/></filter>
</defs>
<g clip-path="url(#clc)">
<rect x="55" y="730" width="1000" height="335" fill="#454545"/>
<g filter="url(#b5)">
<rect x="55" y="730" width="140" height="335" fill="#434343"/>
<path d="M338 765 L274 893 L322 1035 L400 1012 L322 893 L415 765 Z" fill="#222" opacity=".95"/>
<ellipse cx="378" cy="958" rx="40" ry="52" fill="#161616" opacity=".95"/>
<path d="M408 770 L330 885 L345 920 L420 800 Z" fill="#383838" opacity=".8"/>
<path d="M470 775 L420 893 L465 1010 L490 1010 L445 893 L495 775 Z" fill="#343434" opacity=".8"/>
<path d="M560 775 L505 893 L550 1010 L580 1010 L535 893 L590 775 Z" fill="#383838" opacity=".7"/>
<path d="M780 815 L1040 815 L1045 970 L780 970 C700 960 670 930 665 890 C670 850 700 820 780 815 Z" fill="#4a4a4a"/>
<path d="M680 830 C640 850 640 930 690 955 C660 920 660 860 680 830Z" fill="#2e2e2e" opacity=".8"/>
</g>
<g fill="none" stroke-linecap="round" filter="url(#b3)">
<path d="M236 768 L203 850" stroke="#7a7a7a" stroke-width="16" opacity=".85"/>
<path d="M203 850 L200 880 L222 915" stroke="#606060" stroke-width="12" opacity=".6"/>
<path d="M222 915 L300 1030" stroke="#5a5a5a" stroke-width="12" opacity=".6"/>
<path d="M208 760 L185 825" stroke="#585858" stroke-width="8" opacity=".6"/>
<path d="M270 790 L243 880 L290 1000" stroke="#545454" stroke-width="10" opacity=".5"/>
<path d="M352 900 L352 918" stroke="#707070" stroke-width="12" opacity=".8"/>
<path d="M527 780 L472 893 L517 1007" stroke="#5c5c5c" stroke-width="10" opacity=".7"/>
<path d="M435 893 L437 935" stroke="#686868" stroke-width="4" opacity=".7"/>
<path d="M610 780 L560 893 L600 1000" stroke="#595959" stroke-width="9" opacity=".6"/>
<path d="M395 1012 H420 M440 1014 H455" stroke="#909090" stroke-width="7" opacity=".8"/>
<path d="M240 753 H560" stroke="#5c5c5c" stroke-width="12" opacity=".7"/>
<path d="M560 755 H900" stroke="#707070" stroke-width="14" opacity=".8"/>
<path d="M250 768 H990" stroke="#343434" stroke-width="6" opacity=".6"/>
<path d="M760 775 C690 780 630 830 620 885 C625 950 690 1000 760 1012" stroke="#6c6c6c" stroke-width="9" opacity=".8"/>
<path d="M780 785 C710 790 650 835 636 885 C645 940 700 985 780 1000" stroke="#7a7a7a" stroke-width="6" opacity=".8"/>
<path d="M990 799 H790 C760 800 730 808 710 820" stroke="#b0b0b0" stroke-width="15" opacity=".95"/>
<path d="M710 820 C675 840 655 865 650 885 C655 920 680 950 720 970" stroke="#b0b0b0" stroke-width="10.5" opacity=".95"/>
<path d="M720 970 C745 980 770 986 800 988 H1045" stroke="#a8a8a8" stroke-width="15" opacity=".95"/>
<path d="M760 825 C720 835 690 860 690 890 C695 925 725 950 770 960" stroke="#707070" stroke-width="9" opacity=".7"/>
<path d="M735 850 C722 870 722 900 740 925" stroke="#787878" stroke-width="7" opacity=".6"/>
<path d="M300 1044 H1045" stroke="#7c7c7c" stroke-width="16" opacity=".8"/>
<path d="M190 1050 H300" stroke="#999" stroke-width="8" opacity=".8"/>
<path d="M800 1015 H1045" stroke="#363636" stroke-width="14" opacity=".8"/>
<path d="M620 778 H990" stroke="#363636" stroke-width="10" opacity=".6"/>
</g>
<rect x="55" y="730" width="1000" height="335" filter="url(#clgrain)" opacity=".5"/>
<rect x="662" y="877" width="3" height="4" fill="#eee"/>
</g>
<path d="M141.7 745.7 L400 737 L700 735.5 L906.7 735.5 C935 750 970 770 986.7 791.7 C1000 815 1015 850 1025 881.7 C1033 910 1040 945 1043.3 965 L1046.7 1053.5 L700 1055 L191.7 1055 L62.7 911.7 L63.3 821.7 Z" fill="none" stroke="#000" stroke-width="2.2" stroke-linejoin="miter"/>
<g fill="#9bbb59" stroke="#000" stroke-width="1.6">
<ellipse cx="179.3" cy="878.3" rx="21.7" ry="17.7"/>
<ellipse cx="375" cy="890" rx="21.7" ry="17"/>
<ellipse cx="582.7" cy="825.7" rx="23.3" ry="17.7"/>
<ellipse cx="601.7" cy="906.7" rx="23" ry="17.7"/>
<ellipse cx="803.3" cy="911" rx="22.5" ry="17"/>
<ellipse cx="946.7" cy="843.3" rx="22.7" ry="17.5"/>
<ellipse cx="946.7" cy="936.7" rx="22.7" ry="17.5"/>
</g>
<g fill="#c9504f" stroke="#000" stroke-width="1.6">
<ellipse cx="76" cy="869" rx="12" ry="9.7"/>
<ellipse cx="102.7" cy="868.3" rx="12" ry="9.7"/>
<ellipse cx="130" cy="867.7" rx="12" ry="9.7"/>
<ellipse cx="157.3" cy="871" rx="12" ry="9.7"/>
<ellipse cx="184.3" cy="873.3" rx="12" ry="9.7"/>
<ellipse cx="208.3" cy="875" rx="12" ry="9.7"/>
<ellipse cx="236.7" cy="875.7" rx="12" ry="9.7"/>
<ellipse cx="264.3" cy="878.3" rx="12" ry="9.7"/>
<ellipse cx="290" cy="879.3" rx="12" ry="9.7"/>
<ellipse cx="319" cy="881.7" rx="12" ry="9.7"/>
<ellipse cx="345" cy="882.7" rx="12" ry="9.7"/>
<ellipse cx="375" cy="878.3" rx="12" ry="9.7"/>
<ellipse cx="400" cy="876.7" rx="12" ry="9.7"/>
<ellipse cx="425" cy="876.7" rx="12" ry="9.7"/>
<ellipse cx="452.7" cy="876.7" rx="12" ry="9.7"/>
<ellipse cx="484.3" cy="886" rx="12" ry="9.7"/>
<ellipse cx="515.7" cy="881" rx="12" ry="9.7"/>
<ellipse cx="551" cy="886" rx="12" ry="9.7"/>
<ellipse cx="585" cy="879" rx="12" ry="9.7"/>
<ellipse cx="615.7" cy="879.3" rx="12" ry="9.7"/>
<ellipse cx="647.7" cy="885.7" rx="12" ry="9.7"/>
<ellipse cx="684.3" cy="895" rx="12" ry="9.7"/>
<ellipse cx="713.3" cy="903.3" rx="12" ry="9.7"/>
<ellipse cx="753.3" cy="899" rx="12" ry="9.7"/>
<ellipse cx="149.3" cy="758.3" rx="12" ry="9.7"/>
<ellipse cx="160" cy="782.3" rx="12" ry="9.7"/>
<ellipse cx="170.7" cy="807.3" rx="12" ry="9.7"/>
<ellipse cx="183.3" cy="837.3" rx="12" ry="9.7"/>
<ellipse cx="76" cy="825" rx="12" ry="9.7"/>
<ellipse cx="111.7" cy="835" rx="12" ry="9.7"/>
<ellipse cx="143.3" cy="845" rx="12" ry="9.7"/>
<ellipse cx="225" cy="897.3" rx="12" ry="9.7"/>
<ellipse cx="201.7" cy="912.3" rx="12" ry="9.7"/>
<ellipse cx="181" cy="932.3" rx="12" ry="9.7"/>
<ellipse cx="158.3" cy="957.3" rx="12" ry="9.7"/>
<ellipse cx="140.7" cy="976.7" rx="12" ry="9.7"/>
<ellipse cx="798.3" cy="754.3" rx="12" ry="9.7"/>
<ellipse cx="793.3" cy="796.7" rx="12" ry="9.7"/>
<ellipse cx="793.3" cy="841" rx="12" ry="9.7"/>
<ellipse cx="791.7" cy="895" rx="12" ry="9.7"/>
<ellipse cx="791.7" cy="939" rx="12" ry="9.7"/>
<ellipse cx="790.7" cy="983.3" rx="12" ry="9.7"/>
<ellipse cx="787.7" cy="1021.7" rx="12" ry="9.7"/>
<ellipse cx="875.7" cy="754.3" rx="12" ry="9.7"/>
<ellipse cx="875.7" cy="799" rx="12" ry="9.7"/>
<ellipse cx="872.3" cy="856.7" rx="12" ry="9.7"/>
<ellipse cx="871.7" cy="905.7" rx="12" ry="9.7"/>
<ellipse cx="869" cy="956.7" rx="12" ry="9.7"/>
<ellipse cx="869" cy="1010.7" rx="12" ry="9.7"/>
</g>
<g id="charts" font-family="'Liberation Sans',Arial,sans-serif">
<g stroke="#8c8c8c" stroke-width="4.5" fill="none" stroke-linecap="butt">
<path d="M145.5 1104.6H998.25"/>
<path d="M158.5 1102.6V1881.3"/>
<path d="M996.0 1102.6V1870.3"/>
<path d="M145.5 1486.4H996.0" stroke-width="3.6"/>
<path d="M145.5 1868.3H996.0"/>
<path d="M996.0 1869.1H1008.58" stroke-width="3"/>
</g>
<g stroke="#8c8c8c" stroke-width="2.8" fill="none">
<path d="M145.5 1104.6H171.5M158.5 1117.4H168.5M158.5 1130.1H168.5M158.5 1142.9H168.5M158.5 1155.7H168.5M145.5 1168.4H171.5M158.5 1181.2H168.5M158.5 1194.0H168.5M158.5 1206.8H168.5M158.5 1219.5H168.5M145.5 1232.3H171.5M158.5 1245.1H168.5M158.5 1257.8H168.5M158.5 1270.6H168.5M158.5 1283.4H168.5M145.5 1296.1H171.5M158.5 1308.9H168.5M158.5 1321.7H168.5M158.5 1334.5H168.5M158.5 1347.2H168.5M145.5 1360.0H171.5M158.5 1372.8H168.5M158.5 1385.5H168.5M158.5 1398.3H168.5M158.5 1411.1H168.5M145.5 1423.8H171.5M158.5 1436.6H168.5M158.5 1449.4H168.5M158.5 1462.2H168.5M158.5 1474.9H168.5M145.5 1487.7H171.5M145.5 1486.4H171.5M158.5 1534.1H168.5M145.5 1581.9H171.5M158.5 1629.6H168.5M145.5 1677.3H171.5M158.5 1725.1H168.5M145.5 1772.8H171.5M158.5 1820.6H168.5M145.5 1868.3H171.5M158.7 1486.4V1499.4M179.6 1486.4V1476.4M200.5 1486.4V1476.4M221.4 1486.4V1476.4M242.3 1486.4V1476.4M263.2 1486.4V1499.4M284.1 1486.4V1476.4M305.0 1486.4V1476.4M325.9 1486.4V1476.4M346.8 1486.4V1476.4M367.7 1486.4V1499.4M388.6 1486.4V1476.4M409.5 1486.4V1476.4M430.4 1486.4V1476.4M451.3 1486.4V1476.4M472.2 1486.4V1499.4M493.1 1486.4V1476.4M514.0 1486.4V1476.4M534.9 1486.4V1476.4M555.8 1486.4V1476.4M576.7 1486.4V1499.4M597.6 1486.4V1476.4M618.5 1486.4V1476.4M639.4 1486.4V1476.4M660.3 1486.4V1476.4M681.2 1486.4V1499.4M702.1 1486.4V1476.4M723.0 1486.4V1476.4M743.9 1486.4V1476.4M764.8 1486.4V1476.4M785.7 1486.4V1499.4M806.6 1486.4V1476.4M827.5 1486.4V1476.4M848.4 1486.4V1476.4M869.3 1486.4V1476.4M890.2 1486.4V1499.4M911.1 1486.4V1476.4M932.0 1486.4V1476.4M952.9 1486.4V1476.4M973.8 1486.4V1476.4M158.5 1868.3V1881.3M179.8 1868.3V1858.3M201.0 1868.3V1858.3M222.3 1868.3V1858.3M243.5 1868.3V1858.3M264.8 1868.3V1881.3M286.0 1868.3V1858.3M307.3 1868.3V1858.3M328.5 1868.3V1858.3M349.8 1868.3V1858.3M371.0 1868.3V1881.3M392.3 1868.3V1858.3M413.5 1868.3V1858.3M434.8 1868.3V1858.3M456.0 1868.3V1858.3M477.3 1868.3V1881.3M498.5 1868.3V1858.3M519.8 1868.3V1858.3M541.0 1868.3V1858.3M562.3 1868.3V1858.3M583.5 1868.3V1881.3M604.8 1868.3V1858.3M626.0 1868.3V1858.3M647.3 1868.3V1858.3M668.5 1868.3V1858.3M689.8 1868.3V1881.3M711.1 1868.3V1858.3M732.3 1868.3V1858.3M753.6 1868.3V1858.3M774.8 1868.3V1858.3M796.1 1868.3V1881.3M817.3 1868.3V1858.3M838.6 1868.3V1858.3M859.8 1868.3V1858.3M881.1 1868.3V1858.3M902.3 1868.3V1881.3M923.6 1868.3V1858.3M944.8 1868.3V1858.3M966.1 1868.3V1858.3M987.3 1868.3V1858.3M1008.6 1858.3V1881.3"/>
</g>
<path d="M165 1374V1424M157.5 1374h15M157.5 1424h15M181.5 1337.5V1387.5M174.0 1337.5h15M174.0 1387.5h15M166 1165V1215M158.5 1165h15M158.5 1215h15M164 1195V1245M156.5 1195h15M156.5 1245h15M181 1207V1257M173.5 1207h15M173.5 1257h15M190 1219V1269M182.5 1219h15M182.5 1269h15M210 1167V1217M202.5 1167h15M202.5 1217h15M240 1200V1250M232.5 1200h15M232.5 1250h15M260 1207V1257M252.5 1207h15M252.5 1257h15M272 1199V1249M264.5 1199h15M264.5 1249h15M301 1150V1200M293.5 1150h15M293.5 1200h15M160 1179V1229M152.5 1179h15M152.5 1229h15M179 1161.4V1211.4M171.5 1161.4h15M171.5 1211.4h15M185.6 1186V1236M178.1 1186h15M178.1 1236h15M164.4 1199V1249M156.9 1199h15M156.9 1249h15M185.6 1216V1266M178.1 1216h15M178.1 1266h15M208.6 1143V1193M201.1 1143h15M201.1 1193h15M231.6 1159V1209M224.1 1159h15M224.1 1209h15M210.4 1177V1227M202.9 1177h15M202.9 1227h15M206.6 1212V1262M199.1 1212h15M199.1 1262h15M222 1205V1255M214.5 1205h15M214.5 1255h15M252 1192V1242M244.5 1192h15M244.5 1242h15M280 1201V1251M272.5 1201h15M272.5 1251h15M282.4 1204V1254M274.9 1204h15M274.9 1254h15M199.6 1257V1313M192.1 1257h15M192.1 1313h15M215 1250V1300M207.5 1250h15M207.5 1300h15M251 1260V1310M243.5 1260h15M243.5 1310h15M236 1265V1315M228.5 1265h15M228.5 1315h15M249 1244V1294M241.5 1244h15M241.5 1294h15M294 1158V1208M286.5 1158h15M286.5 1208h15M315.6 1168V1218M308.1 1168h15M308.1 1218h15M323.6 1197V1247M316.1 1197h15M316.1 1247h15M304.4 1218V1268M296.9 1218h15M296.9 1268h15M325.6 1123V1175M318.1 1123h15M318.1 1175h15M380 1192.5V1242.5M372.5 1192.5h15M372.5 1242.5h15M384 1244V1294M376.5 1244h15M376.5 1294h15M409 1212.5V1262.5M401.5 1212.5h15M401.5 1262.5h15M434 1182.5V1232.5M426.5 1182.5h15M426.5 1232.5h15M481.5 1183.5V1233.5M474.0 1183.5h15M474.0 1233.5h15M478.5 1234V1284M471.0 1234h15M471.0 1284h15M555 1197.5V1247.5M547.5 1197.5h15M547.5 1247.5h15M644 1186.5V1236.5M636.5 1186.5h15M636.5 1236.5h15M660 1226.5V1276.5M652.5 1226.5h15M652.5 1276.5h15M605 1241V1291M597.5 1241h15M597.5 1291h15M615 1257.5V1307.5M607.5 1257.5h15M607.5 1307.5h15M725 1186.5V1236.5M717.5 1186.5h15M717.5 1236.5h15M785 1149V1199M777.5 1149h15M777.5 1199h15M261 1236V1272M253.5 1236h15M253.5 1272h15M387.5 1130.5V1166.5M380.0 1130.5h15M380.0 1166.5h15M596 1199.5V1235.5M588.5 1199.5h15M588.5 1235.5h15M586.5 1262V1298M579.0 1262h15M579.0 1298h15M771 1232V1268M763.5 1232h15M763.5 1268h15M905 1213.5V1249.5M897.5 1213.5h15M897.5 1249.5h15M885 1265V1313M877.5 1265h15M877.5 1313h15" stroke="#000" stroke-width="3" fill="none"/>
<g fill="#9bbb59" stroke="#3c5a1e" stroke-width="1.2">
<circle cx="165" cy="1399" r="12"/>
<circle cx="181.5" cy="1362.5" r="12"/>
<circle cx="166" cy="1190" r="12"/>
<circle cx="164" cy="1220" r="12"/>
<circle cx="181" cy="1232" r="12"/>
<circle cx="190" cy="1244" r="12"/>
<circle cx="210" cy="1192" r="12"/>
<circle cx="240" cy="1225" r="12"/>
<circle cx="260" cy="1232" r="12"/>
<circle cx="272" cy="1224" r="12"/>
<circle cx="301" cy="1175" r="12"/>
<circle cx="160" cy="1204" r="12"/>
<circle cx="179" cy="1186.4" r="12"/>
<circle cx="185.6" cy="1211" r="12"/>
<circle cx="164.4" cy="1224" r="12"/>
<circle cx="185.6" cy="1241" r="12"/>
<circle cx="208.6" cy="1168" r="12"/>
<circle cx="231.6" cy="1184" r="12"/>
<circle cx="210.4" cy="1202" r="12"/>
<circle cx="206.6" cy="1237" r="12"/>
<circle cx="222" cy="1230" r="12"/>
<circle cx="252" cy="1217" r="12"/>
<circle cx="280" cy="1226" r="12"/>
<circle cx="282.4" cy="1229" r="12"/>
<circle cx="199.6" cy="1285" r="12"/>
<circle cx="215" cy="1275" r="12"/>
<circle cx="251" cy="1285" r="12"/>
<circle cx="236" cy="1290" r="12"/>
<circle cx="249" cy="1269" r="12"/>
<circle cx="294" cy="1183" r="12"/>
<circle cx="315.6" cy="1193" r="12"/>
<circle cx="323.6" cy="1222" r="12"/>
<circle cx="304.4" cy="1243" r="12"/>
<circle cx="325.6" cy="1149" r="12"/>
<circle cx="380" cy="1217.5" r="12"/>
<circle cx="384" cy="1269" r="12"/>
<circle cx="409" cy="1237.5" r="12"/>
<circle cx="434" cy="1207.5" r="12"/>
<circle cx="481.5" cy="1208.5" r="12"/>
<circle cx="478.5" cy="1259" r="12"/>
<circle cx="555" cy="1222.5" r="12"/>
<circle cx="644" cy="1211.5" r="12"/>
<circle cx="660" cy="1251.5" r="12"/>
<circle cx="605" cy="1266" r="12"/>
<circle cx="615" cy="1282.5" r="12"/>
<circle cx="725" cy="1211.5" r="12"/>
<circle cx="785" cy="1174" r="12"/>
</g>
<g fill="#c0504d" stroke="#ecd0c0" stroke-width="1">
<circle cx="261" cy="1254" r="14"/>
<circle cx="387.5" cy="1148.5" r="14"/>
<circle cx="596" cy="1217.5" r="14"/>
<circle cx="586.5" cy="1280" r="14"/>
<circle cx="771" cy="1250" r="14"/>
<circle cx="905" cy="1231.5" r="14"/>
<circle cx="885" cy="1289" r="14"/>
</g>
<g fill="#9bbb59" stroke="#3c5a1e" stroke-width="1.2">
<circle cx="213" cy="1855" r="12.3"/>
<circle cx="201" cy="1856.5" r="12.3"/>
<circle cx="237.5" cy="1833.7" r="12.3"/>
<circle cx="243.7" cy="1858" r="12.3"/>
<circle cx="298.5" cy="1852" r="12.3"/>
<circle cx="313.8" cy="1861" r="12.3"/>
<circle cx="283.3" cy="1830.6" r="12.3"/>
<circle cx="326" cy="1833.7" r="12.3"/>
<circle cx="179.6" cy="1775.7" r="12.3"/>
<circle cx="157.5" cy="1586.5" r="12.3"/>
<circle cx="165" cy="1591" r="12.3"/>
<circle cx="181.5" cy="1602.5" r="12.3"/>
<circle cx="164" cy="1659" r="12.3"/>
<circle cx="157.5" cy="1772.5" r="12.3"/>
<circle cx="181" cy="1769" r="12.3"/>
<circle cx="164" cy="1752.5" r="12.3"/>
<circle cx="165" cy="1780" r="12.3"/>
<circle cx="166.5" cy="1817.5" r="12.3"/>
<circle cx="170" cy="1800" r="12.3"/>
<circle cx="190" cy="1820" r="12.3"/>
<circle cx="177.5" cy="1825" r="12.3"/>
<circle cx="186" cy="1814" r="12.3"/>
<circle cx="225" cy="1812.5" r="12.3"/>
<circle cx="216" cy="1816" r="12.3"/>
<circle cx="211" cy="1793.5" r="12.3"/>
<circle cx="202.5" cy="1850" r="12.3"/>
<circle cx="186" cy="1842.5" r="12.3"/>
<circle cx="215" cy="1852.5" r="12.3"/>
<circle cx="207.5" cy="1841" r="12.3"/>
<circle cx="240" cy="1836" r="12.3"/>
<circle cx="231" cy="1851" r="12.3"/>
<circle cx="247.5" cy="1850" r="12.3"/>
<circle cx="252.5" cy="1837.5" r="12.3"/>
<circle cx="270" cy="1860" r="12.3"/>
<circle cx="277.5" cy="1857.5" r="12.3"/>
<circle cx="275" cy="1819" r="12.3"/>
<circle cx="284" cy="1844" r="12.3"/>
<circle cx="296.5" cy="1830" r="12.3"/>
<circle cx="312.5" cy="1861" r="12.3"/>
<circle cx="305" cy="1841" r="12.3"/>
<circle cx="317.5" cy="1852.5" r="12.3"/>
<circle cx="327.5" cy="1842.5" r="12.3"/>
<circle cx="345" cy="1852.5" r="12.3"/>
<circle cx="362.5" cy="1861" r="12.3"/>
<circle cx="382.5" cy="1842.5" r="12.3"/>
<circle cx="387.5" cy="1862.5" r="12.3"/>
<circle cx="412.5" cy="1854" r="12.3"/>
<circle cx="427.5" cy="1844" r="12.3"/>
<circle cx="440" cy="1838.5" r="12.3"/>
<circle cx="482.5" cy="1846.5" r="12.3"/>
<circle cx="487.5" cy="1850" r="12.3"/>
<circle cx="504" cy="1846.5" r="12.3"/>
<circle cx="532.5" cy="1850" r="12.3"/>
<circle cx="562.5" cy="1839" r="12.3"/>
<circle cx="554" cy="1850" r="12.3"/>
<circle cx="579" cy="1842.5" r="12.3"/>
<circle cx="621.5" cy="1849" r="12.3"/>
<circle cx="614" cy="1835" r="12.3"/>
<circle cx="654" cy="1851" r="12.3"/>
<circle cx="670" cy="1852.5" r="12.3"/>
<circle cx="734" cy="1842.5" r="12.3"/>
<circle cx="796.5" cy="1852.5" r="12.3"/>
<circle cx="903" cy="1858" r="12.3"/>
</g>
<g fill="#c0504d" stroke="#6b2322" stroke-width="1.2">
<circle cx="391.5" cy="1840" r="14.6"/>
<circle cx="594" cy="1819" r="14.6"/>
<circle cx="603.5" cy="1835" r="14.6"/>
<circle cx="781" cy="1857.5" r="14.6"/>
<circle cx="897.5" cy="1861" r="14.6"/>
<circle cx="917.5" cy="1841.5" r="14.6"/>
</g>
<circle cx="262.5" cy="1845" r="16" fill="#c0504d"/>
<rect x="720" y="1358.4" width="247.5" height="91.4" fill="#fff" stroke="#8c8c8c" stroke-width="1.6"/>
<circle cx="737.5" cy="1381" r="7" fill="#c0504d"/>
<circle cx="738.5" cy="1424" r="6" fill="#9bbb59" stroke="#3c5a1e" stroke-width="1"/>
<text x="754" y="1390" font-size="26" textLength="201" lengthAdjust="spacing" fill="#111">20μm beam spot</text>
<text x="754" y="1433" font-size="26" textLength="201" lengthAdjust="spacing" fill="#111">10μm beam spot</text>
<g font-size="43" fill="#000" letter-spacing="3.2" text-anchor="end">
<text x="126.6" y="1117.4">5</text>
<text x="129.7" y="1245.4">-5</text>
<text x="131.7" y="1372.9">-15</text>
<text x="131.4" y="1500.2">-25</text>
<text x="129.3" y="1596.2">12</text>
<text x="125.8" y="1692.1">8</text>
<text x="125.5" y="1787.6">4</text>
<text x="125.8" y="1883.3">0</text>
</g>
<g font-size="43" fill="#000" letter-spacing="2.2" text-anchor="middle">
<text x="155.0" y="1933.4">0</text>
<text x="261.3" y="1933.4">50</text>
<text x="367.5" y="1933.4">100</text>
<text x="473.8" y="1933.4">150</text>
<text x="580.0" y="1933.4">200</text>
<text x="686.3" y="1933.4">250</text>
<text x="792.6" y="1933.4">300</text>
<text x="898.8" y="1933.4">350</text>
<text x="1005.1" y="1933.4">400</text>
</g>
<text x="947" y="1162.3" font-size="59.5" fill="#000">b</text>
<text x="949.8" y="1542.4" font-size="60.5" fill="#000">c</text>
<g font-weight="bold" fill="#262626">
<text x="408" y="1984" font-size="33.5" textLength="348" lengthAdjust="spacing">Distance to Rim(μm)</text>
<text transform="translate(42.7 1358.3) rotate(-90)" font-size="33.5" textLength="128" lengthAdjust="spacing">δ<tspan font-size="13.5" dy="-19.5">7</tspan><tspan dy="19.5">Li (‰)</tspan></text>
<text transform="translate(45.6 1818.5) rotate(-90)" font-size="33" textLength="273.5" lengthAdjust="spacing">Li content (ppm)</text>
</g>
</g>
</svg></body></html>
